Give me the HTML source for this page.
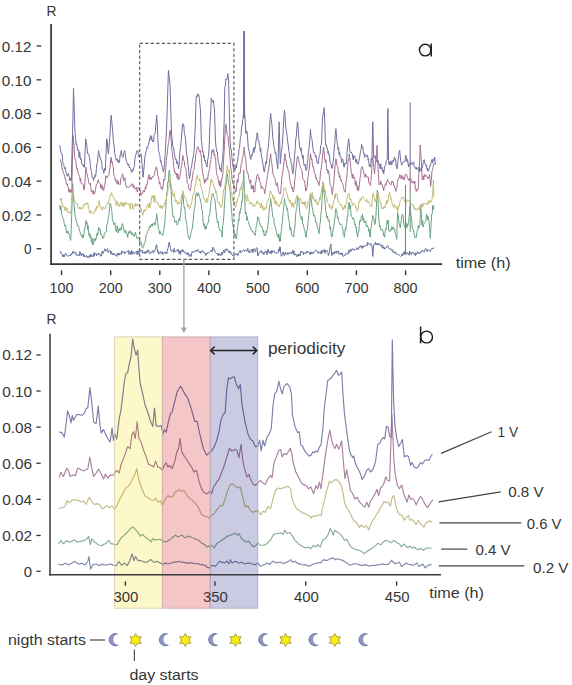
<!DOCTYPE html>
<html><head><meta charset="utf-8"><title>Figure</title><style>
html,body{margin:0;padding:0;background:#fff;width:572px;height:685px;overflow:hidden}
svg{display:block}
text{font-family:"Liberation Sans", sans-serif}
</style></head><body>
<svg width="572" height="685" viewBox="0 0 572 685">
<rect x="0" y="0" width="572" height="685" fill="#fff"/>
<defs><filter id="soft" x="-5%" y="-5%" width="110%" height="110%"><feGaussianBlur stdDeviation="0.28"/></filter></defs>
<g id="top">
<g filter="url(#soft)">
<polyline points="60.0,252.0 60.6,251.2 61.1,253.9 61.7,253.4 62.3,254.4 62.8,256.8 63.4,254.8 64.0,257.1 64.5,256.2 65.0,253.8 65.6,253.6 66.2,253.7 66.7,255.6 67.3,256.1 67.8,256.1 68.4,256.1 69.0,255.3 69.5,255.6 70.1,254.8 70.7,255.9 71.2,253.4 71.8,254.6 72.4,253.0 72.9,251.2 73.5,251.4 74.0,253.3 74.6,252.3 75.2,252.7 75.7,252.0 76.2,255.3 76.8,254.0 77.3,255.7 77.8,255.4 78.3,255.1 78.8,254.9 79.3,255.8 79.8,251.6 80.3,254.6 80.8,252.4 81.3,256.0 81.8,254.8 82.3,255.2 82.8,253.8 83.3,253.4 83.8,256.8 84.3,255.1 84.9,256.8 85.4,257.1 85.9,256.2 86.4,255.5 86.9,256.0 87.4,257.6 87.9,256.0 88.4,256.9 88.9,257.5 89.4,255.3 89.9,257.3 90.4,256.8 90.9,253.9 91.4,256.7 91.9,255.6 92.4,255.8 92.9,255.8 93.4,257.0 93.9,252.5 94.5,255.7 95.0,253.8 95.5,253.3 96.0,253.1 96.5,255.8 97.0,254.0 97.5,254.6 98.0,254.9 98.5,252.9 99.0,253.8 99.6,253.6 100.1,255.4 100.6,256.4 101.1,254.8 101.6,255.9 102.1,251.1 102.7,252.9 103.2,253.5 103.7,252.1 104.2,250.9 104.8,248.7 105.3,249.8 105.9,251.2 106.4,250.1 107.0,249.3 107.6,248.6 108.1,252.7 108.7,251.4 109.2,251.4 109.8,250.2 110.3,250.6 110.9,254.2 111.5,251.6 112.0,253.1 112.5,255.1 113.0,253.8 113.6,253.5 114.1,255.0 114.6,253.6 115.2,255.6 115.7,255.3 116.2,255.6 116.7,256.6 117.2,253.2 117.8,254.0 118.3,255.4 118.8,253.0 119.4,254.9 119.9,252.9 120.4,253.1 120.9,253.7 121.4,254.7 121.9,250.8 122.4,252.9 123.0,252.1 123.5,251.7 124.0,251.2 124.5,254.1 125.0,253.2 125.5,252.3 126.0,252.7 126.5,251.8 127.0,252.1 127.5,251.4 128.0,251.3 128.5,250.2 129.0,254.5 129.5,252.2 130.0,251.6 130.5,253.1 131.0,254.8 131.5,250.0 132.0,253.9 132.5,253.8 133.0,251.5 133.5,253.3 134.0,253.8 134.5,254.1 135.0,252.5 135.5,252.3 136.0,252.3 136.6,251.2 137.1,254.5 137.6,250.8 138.1,254.4 138.6,252.7 139.2,249.8 139.7,250.6 140.2,252.5 140.8,251.6 141.3,250.3 141.8,250.6 142.3,250.0 142.8,253.4 143.4,252.4 143.9,252.0 144.4,253.6 145.0,251.4 145.5,251.4 146.0,253.5 146.6,251.5 147.1,252.4 147.7,249.8 148.2,251.4 148.7,250.0 149.3,253.3 149.8,252.3 150.4,253.6 151.1,252.3 151.7,252.3 152.3,250.5 152.8,250.6 153.4,253.2 154.0,250.5 154.5,250.9 155.1,250.6 155.6,247.9 156.2,245.4 156.7,244.7 157.6,252.3 158.1,250.7 158.7,254.0 159.2,254.1 159.7,253.6 160.2,251.6 160.8,251.7 161.3,253.6 161.8,253.1 162.3,251.6 162.8,254.4 163.3,253.5 163.8,253.3 164.3,253.0 164.8,251.9 165.3,253.4 165.8,252.2 166.3,252.6 166.8,254.0 167.3,250.8 167.8,248.9 168.3,247.3 168.8,242.8 169.3,242.2 169.9,245.0 170.4,247.6 171.0,250.6 171.5,251.5 172.1,250.8 172.6,249.9 173.1,251.2 173.6,252.6 174.1,248.3 174.7,251.8 175.2,251.4 175.8,251.6 176.3,250.6 176.9,251.1 177.5,250.8 178.0,249.1 178.6,252.3 179.1,253.8 179.6,250.8 180.1,250.8 180.6,254.5 181.1,250.9 181.6,250.1 182.1,249.5 182.6,252.0 183.1,249.9 183.6,250.6 184.2,252.7 184.7,252.4 185.3,252.4 185.9,252.1 186.4,254.4 187.0,253.1 187.5,254.6 188.0,252.7 188.5,253.0 189.1,256.5 189.6,255.6 190.1,254.3 190.6,255.2 191.1,256.5 191.6,253.7 192.1,251.5 192.7,252.4 193.2,252.6 193.7,251.4 194.2,251.4 194.8,251.5 195.3,251.7 195.9,250.5 196.4,251.3 197.0,249.8 197.6,250.3 198.1,249.6 198.7,251.7 199.3,251.8 199.8,252.8 200.4,251.4 200.9,253.3 201.4,251.7 201.9,251.2 202.4,251.6 202.9,250.5 203.4,252.2 203.9,252.2 204.4,253.4 204.9,253.5 205.4,253.1 205.9,255.6 206.4,253.6 206.9,253.4 207.4,253.9 207.9,252.3 208.4,252.8 208.9,252.6 209.4,252.3 209.9,251.7 210.4,251.4 211.0,251.3 211.5,250.0 212.1,251.9 212.7,247.0 213.2,249.9 213.8,248.9 214.4,249.4 214.9,251.1 215.4,252.5 216.0,253.3 216.6,253.5 217.1,254.0 217.7,253.4 218.2,255.9 218.8,253.5 219.4,255.0 219.9,253.7 220.5,255.6 221.0,255.8 221.5,253.7 222.0,251.9 222.5,254.5 223.0,251.9 223.5,252.0 224.0,249.9 224.5,252.7 225.0,252.3 225.5,248.9 226.1,250.1 226.6,248.9 227.2,249.2 227.8,249.4 228.3,252.3 228.9,251.4 229.4,251.0 230.0,253.3 230.6,251.4 231.1,254.1 231.6,254.0 232.2,254.8 232.7,255.8 233.2,255.3 233.8,256.5 234.3,256.3 234.8,255.2 235.3,254.9 235.9,253.5 236.4,254.8 236.9,254.3 237.4,253.9 237.9,255.6 238.4,254.8 238.9,252.8 239.5,251.8 240.1,250.3 240.6,252.5 241.1,252.8 241.7,251.4 242.3,251.1 242.8,250.3 243.4,249.8 244.0,249.9 244.5,251.6 245.1,250.6 245.7,249.8 246.2,251.0 246.8,250.8 247.3,251.1 247.8,248.3 248.4,251.4 249.0,252.6 249.5,250.7 250.1,252.5 250.7,252.2 251.2,249.5 251.8,250.6 252.4,249.0 252.9,253.0 253.4,249.5 254.0,248.6 254.6,249.9 255.1,251.4 255.6,251.6 256.1,248.6 256.6,247.6 257.1,248.1 257.7,255.6 258.2,255.9 258.7,253.7 259.2,252.2 259.7,252.7 260.2,251.4 260.7,251.8 261.2,250.4 261.8,252.3 262.3,253.4 262.8,251.9 263.3,252.6 263.9,254.8 264.4,252.0 264.9,252.8 265.4,251.2 266.0,250.9 266.5,253.4 267.0,254.7 267.6,250.8 268.1,249.2 268.6,252.3 269.1,253.2 269.6,251.9 270.1,251.2 270.6,251.3 271.1,254.1 271.6,250.4 272.1,252.8 272.6,250.9 273.1,250.6 273.6,251.4 274.1,250.9 274.7,252.6 275.2,252.0 275.7,252.4 276.2,253.7 276.8,253.3 277.3,252.3 277.8,252.3 278.3,252.5 278.8,249.0 279.3,251.2 279.8,246.7 280.3,247.2 281.1,255.6 281.6,256.3 282.2,254.5 282.7,253.5 283.2,251.9 283.7,255.0 284.2,255.6 284.8,254.2 285.3,252.3 285.8,254.1 286.3,254.0 286.8,253.6 287.3,252.7 287.9,254.5 288.4,253.5 288.9,252.4 289.4,253.5 289.9,252.9 290.4,253.1 290.9,253.3 291.4,252.0 291.9,253.6 292.4,252.3 292.9,250.3 293.4,254.3 293.9,250.7 294.4,254.9 294.9,255.1 295.4,254.0 296.0,254.3 296.5,256.5 297.1,255.6 297.6,256.4 298.1,253.9 298.6,256.0 299.1,254.1 299.6,255.4 300.1,256.0 300.6,251.5 301.1,252.5 301.6,251.1 302.1,252.3 302.6,252.2 303.1,251.9 303.6,254.8 304.1,252.5 304.6,253.0 305.1,253.5 305.6,252.7 306.1,253.4 306.6,251.2 307.1,251.4 307.6,253.0 308.1,251.9 308.6,251.5 309.1,251.6 309.6,252.8 310.2,254.8 310.7,252.3 311.2,251.8 311.7,253.6 312.2,252.3 312.7,253.6 313.2,253.4 313.7,251.9 314.2,251.5 314.7,251.8 315.2,251.6 315.7,251.1 316.2,249.8 316.7,250.6 317.2,251.4 317.7,251.8 318.2,253.4 318.7,251.7 319.2,252.4 319.7,252.8 320.2,252.7 320.7,253.7 321.2,250.6 321.7,253.9 322.2,252.3 322.7,250.5 323.2,252.0 323.7,251.7 324.2,249.3 324.8,252.0 325.3,253.4 325.8,250.2 326.3,251.3 326.8,250.1 327.3,251.4 327.9,252.7 328.4,255.6 328.9,254.3 329.4,252.0 329.9,247.1 330.4,246.8 330.9,243.9 331.7,255.6 332.3,254.9 332.8,252.8 333.4,252.1 334.0,254.3 334.5,252.2 335.1,251.4 335.6,253.0 336.1,251.0 336.6,253.3 337.1,251.1 337.6,251.7 338.1,250.7 338.6,253.2 339.1,254.4 339.6,253.1 340.1,253.1 340.6,254.3 341.2,252.7 341.7,254.8 342.2,253.0 342.7,254.9 343.2,256.6 343.8,255.7 344.3,255.6 344.8,254.8 345.4,255.3 345.9,253.0 346.4,253.4 346.9,253.4 347.4,253.8 348.0,254.5 348.5,251.4 349.0,249.9 349.5,252.8 350.0,251.4 350.5,249.4 351.0,251.3 351.5,250.9 352.0,248.7 352.5,248.7 353.0,250.0 353.5,249.8 354.0,248.9 354.5,250.4 355.0,250.4 355.5,250.0 356.1,249.4 356.6,247.9 357.1,248.2 357.6,247.9 358.1,249.7 358.6,248.1 359.1,248.1 359.6,246.1 360.1,246.6 360.6,247.2 361.1,245.3 361.6,246.1 362.1,248.5 362.6,246.2 363.1,247.5 363.6,245.6 364.1,246.5 364.6,246.5 365.1,246.4 365.6,245.6 366.1,244.8 366.6,244.7 367.1,245.8 367.6,242.2 368.1,243.0 368.6,243.9 369.2,244.3 369.7,243.6 370.3,244.7 370.9,243.6 371.4,245.9 372.0,245.6 372.8,256.5 373.7,244.7 374.2,244.6 374.8,244.9 375.4,242.2 375.9,244.2 376.4,244.8 377.0,243.0 377.6,244.8 378.1,245.1 378.7,243.7 379.3,243.5 379.8,244.7 380.4,245.6 380.9,244.5 381.5,245.3 382.0,247.5 382.6,245.0 383.1,248.5 383.7,246.9 384.2,247.6 384.7,249.1 385.2,248.8 385.8,247.6 386.3,247.6 386.8,246.4 387.3,246.5 387.9,245.6 388.4,248.3 388.9,248.6 389.4,248.8 390.0,249.1 390.5,248.5 391.0,249.9 391.6,249.8 392.1,251.2 392.6,249.7 393.2,252.6 393.7,251.6 394.3,251.8 394.8,253.4 395.4,252.4 396.0,252.5 396.5,254.2 397.1,254.7 397.6,254.5 398.2,254.5 398.8,254.2 399.3,255.1 399.9,255.8 400.4,256.5 401.0,255.9 401.5,255.7 402.1,253.8 402.6,256.0 403.1,253.8 403.6,252.3 404.1,254.5 404.7,251.3 405.2,251.7 405.8,252.9 406.3,252.8 406.9,254.1 407.4,252.5 408.0,253.1 408.6,253.2 409.1,255.3 409.7,251.1 410.2,253.2 410.8,253.8 411.4,254.8 411.9,252.3 412.5,252.0 413.0,253.1 413.6,253.1 414.2,254.1 414.7,252.7 415.3,255.7 415.8,253.3 416.4,254.5 417.0,252.9 417.5,251.6 418.1,253.5 418.6,252.6 419.2,252.4 419.8,253.8 420.3,252.8 420.9,252.5 421.4,250.9 422.0,251.7 422.6,250.0 423.1,250.7 423.7,251.4 424.2,252.3 424.8,250.3 425.4,248.4 425.9,249.4 426.5,249.6 427.0,251.6 427.6,249.7 428.1,249.4 428.7,250.3 429.2,250.6 429.8,250.9 430.3,251.7 431.0,249.3 431.7,249.0 432.2,248.1 432.8,248.5 433.3,249.0 433.8,247.6" fill="none" stroke="#66709a" stroke-width="1.0" stroke-linejoin="round" stroke-opacity="1.0"/>
<polyline points="59.7,205.3 60.3,210.0 60.9,205.8 61.4,213.2 62.0,215.2 62.6,217.0 63.2,219.1 63.7,220.0 64.2,223.2 64.8,226.1 65.4,225.1 65.9,227.1 66.4,233.0 66.9,231.9 67.4,233.1 67.9,230.8 68.4,233.8 68.9,233.1 69.4,235.9 69.9,236.9 70.4,240.5 70.9,238.9 71.5,220.0 72.0,204.1 72.6,183.5 73.2,191.8 73.7,201.0 74.3,207.0 74.9,213.8 75.4,217.2 76.0,220.4 76.5,220.4 77.0,223.1 77.5,226.0 78.0,225.5 78.5,227.1 79.0,227.7 79.5,230.1 80.0,231.9 80.5,234.1 81.0,233.8 81.5,236.4 82.0,236.6 82.5,234.8 83.0,238.2 83.5,237.2 84.0,233.9 84.5,230.0 85.0,227.1 85.5,224.7 86.0,220.4 86.5,224.2 87.0,222.5 87.6,230.0 88.1,225.7 88.6,232.1 89.1,235.6 89.6,232.9 90.1,237.9 90.6,235.3 91.1,238.9 91.6,242.9 92.1,238.2 92.6,244.8 93.1,245.2 93.6,243.9 94.1,238.6 94.6,240.6 95.1,238.3 95.6,240.6 96.1,238.9 96.6,235.4 97.1,233.2 97.6,236.0 98.1,231.3 98.6,227.1 99.1,228.3 99.6,230.6 100.1,229.1 100.6,234.4 101.1,233.8 101.6,235.1 102.1,235.6 102.7,238.7 103.2,237.7 103.7,238.0 104.2,234.3 104.7,232.8 105.2,232.7 105.7,231.9 106.2,232.1 106.8,225.1 107.3,224.0 107.9,220.4 108.4,217.5 108.9,215.2 109.4,209.1 109.9,203.6 110.4,203.6 110.9,205.2 111.4,208.2 111.9,211.2 112.4,220.6 112.9,220.4 113.4,222.3 113.9,224.7 114.4,223.9 114.9,222.7 115.4,228.8 116.0,231.3 116.5,231.6 117.1,225.8 117.7,228.8 118.2,233.0 118.8,230.5 119.3,228.4 119.9,231.0 120.4,227.9 121.0,228.1 121.5,229.5 122.1,223.8 122.7,223.8 123.2,226.7 123.8,230.5 124.3,230.5 124.9,232.9 125.4,230.2 126.0,230.5 126.5,234.0 127.1,233.8 127.7,237.5 128.2,233.9 128.8,231.4 129.4,233.2 129.9,231.2 130.5,230.5 131.0,233.9 131.5,234.7 132.0,232.4 132.5,234.4 133.0,235.5 133.5,234.4 134.0,236.3 134.5,236.4 135.0,233.0 135.5,232.1 136.0,235.2 136.5,236.3 137.1,238.6 137.6,237.3 138.1,237.2 138.6,237.3 139.1,238.1 139.6,242.7 140.1,240.8 140.6,242.2 141.1,241.9 141.6,242.5 142.1,247.5 142.6,248.1 143.1,247.2 143.6,246.9 144.1,243.7 144.6,243.8 145.1,241.8 145.6,238.9 146.1,234.9 146.6,234.3 147.1,233.4 147.6,231.5 148.1,230.5 148.7,230.5 149.4,226.1 150.0,227.1 150.5,227.6 151.0,224.2 151.6,224.5 152.1,226.6 152.6,223.8 153.1,224.2 153.6,224.3 154.1,222.7 154.6,223.6 155.1,225.4 155.6,220.9 156.2,220.1 156.7,213.7 157.3,219.0 157.8,222.6 158.4,228.8 159.0,230.1 159.5,234.1 160.1,231.4 160.7,233.2 161.2,234.3 161.8,233.8 162.3,234.6 162.8,235.6 163.3,232.0 163.8,230.4 164.3,227.1 164.8,222.9 165.3,212.9 165.8,209.3 166.3,199.0 166.8,193.6 167.3,190.6 167.8,181.9 168.3,182.1 168.8,173.0 169.3,170.1 169.9,173.1 170.4,182.9 171.0,190.2 171.6,200.5 172.1,207.8 172.7,215.4 173.2,216.9 173.7,215.9 174.2,218.4 174.7,222.3 175.2,222.1 175.7,221.9 176.2,220.7 176.7,222.6 177.2,225.3 177.7,223.8 178.2,223.1 178.7,219.7 179.2,218.3 179.7,220.7 180.2,217.0 180.7,214.3 181.2,207.6 181.8,201.7 182.3,197.8 182.8,195.2 183.3,198.2 183.8,205.5 184.3,208.0 184.8,207.8 185.3,215.4 185.8,220.4 186.3,221.1 186.8,224.5 187.3,230.4 187.8,233.8 188.4,237.4 188.9,236.6 189.5,239.7 190.1,237.5 190.6,235.6 191.2,231.2 191.7,230.2 192.2,228.9 192.8,223.8 193.4,218.9 193.9,211.5 194.5,208.6 195.1,205.8 195.6,196.5 196.2,193.6 196.7,192.6 197.2,196.0 197.7,196.2 198.2,192.7 198.7,193.6 199.2,196.1 199.7,197.4 200.2,198.9 200.7,201.6 201.2,203.6 201.7,209.4 202.2,210.5 202.7,214.5 203.2,222.1 203.7,225.4 204.2,223.7 204.7,227.5 205.2,229.3 205.7,225.8 206.2,228.8 206.8,225.4 207.3,224.7 207.9,222.9 208.5,222.2 209.0,215.3 209.6,215.4 210.1,211.0 210.6,206.9 211.1,200.2 211.6,198.8 212.1,193.6 212.6,194.1 213.1,193.9 213.6,196.4 214.1,197.3 214.6,198.6 215.1,201.0 215.6,207.3 216.1,211.1 216.6,217.1 217.1,220.4 217.7,223.0 218.2,221.3 218.8,228.0 219.4,228.8 219.9,230.7 220.5,230.5 221.1,230.5 221.6,232.5 222.2,237.2 222.7,225.8 223.2,223.2 223.7,218.0 224.2,208.9 224.7,201.9 225.2,194.2 225.7,186.6 226.2,184.0 226.7,178.5 227.2,173.4 227.7,176.2 228.2,179.7 228.7,183.2 229.2,186.5 229.7,186.8 230.3,193.1 230.8,200.6 231.4,210.3 231.9,214.0 232.4,222.9 232.9,225.8 233.4,227.7 233.9,233.8 234.4,235.9 234.9,233.4 235.4,235.3 235.9,238.3 236.4,238.9 236.9,233.7 237.5,227.1 238.0,225.5 238.5,219.4 239.0,220.7 239.5,211.7 240.0,213.7 240.5,208.5 241.0,209.1 241.6,201.5 242.1,202.2 242.6,196.9 243.1,185.9 243.7,170.1 244.4,189.3 245.1,210.3 245.6,214.1 246.1,212.1 246.6,220.3 247.1,216.4 247.6,220.4 248.1,220.6 248.6,221.6 249.1,224.6 249.6,225.9 250.1,227.1 250.6,226.5 251.1,230.1 251.6,229.8 252.1,230.3 252.6,232.1 253.1,231.5 253.6,233.3 254.1,234.0 254.6,233.8 255.1,235.5 255.6,232.3 256.1,226.7 256.7,225.2 257.2,221.6 257.7,217.0 258.2,217.2 258.7,217.3 259.2,221.1 259.7,222.5 260.2,225.4 260.7,225.6 261.2,227.0 261.7,226.0 262.2,227.6 262.7,230.5 263.2,232.1 263.7,230.2 264.2,235.7 264.7,234.5 265.2,235.5 265.7,236.0 266.2,231.1 266.7,232.7 267.2,229.8 267.7,227.1 268.3,221.9 268.9,215.8 269.4,207.1 270.0,204.9 270.6,198.6 271.2,202.9 271.7,207.2 272.2,211.8 272.8,217.0 273.3,217.6 273.8,218.3 274.3,224.1 274.8,225.2 275.3,227.1 275.8,228.8 276.3,231.9 276.8,233.2 277.3,236.5 277.8,235.5 278.3,237.5 278.8,233.9 279.3,241.3 279.8,236.7 280.3,241.4 280.9,233.7 281.4,230.5 282.0,223.8 282.5,221.1 283.0,212.9 283.5,209.2 284.0,205.1 284.5,198.6 285.0,203.3 285.5,204.9 286.0,205.7 286.5,205.5 287.0,210.3 287.5,208.6 288.0,213.5 288.5,219.0 289.0,220.7 289.5,223.8 290.0,230.1 290.5,227.4 291.0,228.4 291.5,234.7 292.0,235.5 292.6,235.6 293.1,234.6 293.7,237.2 294.2,229.6 294.7,229.2 295.2,222.9 295.7,214.2 296.2,210.3 296.8,208.4 297.3,201.0 297.9,196.9 298.4,198.8 298.9,200.6 299.4,207.7 299.9,214.0 300.4,215.4 301.0,218.1 301.5,219.8 302.1,216.6 302.7,223.9 303.2,223.9 303.8,227.1 304.3,228.9 304.8,229.9 305.3,234.5 305.8,236.9 306.3,237.2 306.8,230.4 307.3,230.2 307.8,224.4 308.3,220.7 308.8,215.4 309.4,209.2 309.9,202.7 310.5,193.6 311.0,198.1 311.5,201.1 312.0,207.0 312.5,207.9 313.0,212.0 313.6,215.8 314.1,216.2 314.7,215.1 315.3,219.4 315.8,222.8 316.4,222.1 316.9,223.9 317.4,228.2 317.9,228.4 318.4,230.7 318.9,233.8 319.4,230.0 319.9,223.9 320.4,222.2 320.9,214.5 321.4,210.3 322.0,201.2 322.5,192.1 323.1,181.8 323.6,189.6 324.1,194.1 324.6,196.5 325.1,202.6 325.6,210.3 326.1,211.6 326.6,215.6 327.1,218.1 327.6,216.2 328.1,220.4 328.6,221.2 329.1,219.8 329.6,223.4 330.1,229.4 330.6,227.1 331.1,234.2 331.7,237.2 332.2,236.5 332.7,232.2 333.2,229.7 333.7,225.5 334.2,223.8 334.8,219.1 335.3,213.6 335.9,208.7 336.4,211.1 336.9,212.0 337.4,218.2 337.9,216.7 338.4,220.4 339.0,222.4 339.5,222.5 340.1,224.8 340.7,223.8 341.2,224.1 341.8,225.4 342.3,227.0 342.8,228.6 343.3,234.7 343.8,235.4 344.3,237.2 344.8,232.6 345.3,228.3 345.8,229.9 346.3,225.3 346.8,223.8 347.3,215.9 347.8,216.5 348.3,205.5 348.8,202.0 349.3,202.8 349.8,209.0 350.3,205.1 350.8,212.2 351.3,216.6 351.8,217.0 352.4,217.1 352.9,219.5 353.5,218.2 354.1,219.9 354.6,224.9 355.2,223.8 355.7,227.5 356.2,226.9 356.7,233.7 357.2,233.5 357.7,237.2 358.2,231.8 358.7,232.1 359.2,226.2 359.7,220.4 360.2,220.4 360.8,221.6 361.3,216.6 361.9,217.0 362.5,213.8 363.0,220.6 363.6,217.7 364.2,222.9 364.7,221.1 365.3,222.1 365.8,220.8 366.3,226.5 366.8,226.8 367.3,225.3 367.8,227.1 368.3,227.3 368.8,231.5 369.3,229.4 369.8,236.6 370.3,237.2 370.8,228.9 371.3,227.0 371.8,221.7 372.3,219.4 372.8,215.4 373.3,217.4 373.8,218.9 374.3,222.3 374.8,224.5 375.3,223.8 375.8,216.8 376.3,207.7 376.8,199.6 377.3,190.2 377.9,199.5 378.4,209.3 378.9,220.4 379.5,227.1 380.0,225.6 380.5,226.5 381.0,230.1 381.5,229.6 382.0,230.5 382.5,229.5 383.0,230.7 383.6,236.1 384.1,234.5 384.6,237.2 385.1,231.5 385.6,228.6 386.1,229.4 386.6,226.3 387.1,220.4 387.6,223.9 388.2,220.2 388.7,230.9 389.3,230.5 389.8,230.8 390.3,231.6 390.9,229.1 391.4,230.0 391.9,226.6 392.5,227.5 393.0,229.6 393.6,227.2 394.1,229.6 394.7,229.4 395.2,233.4 395.8,233.9 396.3,237.0 396.8,239.2 397.5,212.6 398.1,214.4 398.6,219.2 399.2,223.9 399.7,225.1 400.3,228.0 400.8,223.3 401.4,220.3 401.9,216.1 402.4,214.0 402.9,215.2 403.4,218.7 404.0,225.1 404.5,226.6 405.0,225.4 405.5,230.2 406.0,224.5 406.5,223.4 407.0,227.7 407.5,224.4 408.0,225.2 408.5,221.5 409.1,217.5 409.6,210.9 410.1,205.6 410.6,211.2 411.1,215.6 411.7,219.9 412.2,228.0 412.8,229.4 413.3,229.6 413.9,232.3 414.4,234.8 415.0,237.8 415.6,236.9 416.1,237.6 416.7,234.0 417.2,231.1 417.8,229.4 418.3,225.4 418.9,228.3 419.4,225.8 419.9,225.2 420.6,205.6 421.3,213.2 422.0,225.2 422.6,220.0 423.1,227.1 423.7,224.5 424.2,223.2 424.8,222.4 425.3,221.9 425.9,220.6 426.4,214.1 426.9,216.8 427.4,219.7 427.9,215.7 428.5,218.0 429.0,221.0 429.6,227.3 430.3,238.5 431.0,225.1 431.7,214.0 432.2,214.0 432.8,205.4 433.3,209.8 433.8,205.6" fill="none" stroke="#6aa282" stroke-width="1.0" stroke-linejoin="round" stroke-opacity="1.0"/>
<polyline points="59.7,198.6 60.2,198.5 60.8,200.4 61.3,198.1 61.8,203.3 62.3,203.1 62.9,206.0 63.4,207.0 64.0,207.1 64.5,206.8 65.0,210.7 65.6,206.9 66.2,208.1 66.7,210.3 67.2,208.5 67.8,212.7 68.3,212.0 68.8,211.5 69.3,212.1 69.9,213.2 70.4,211.5 70.9,213.7 71.5,202.9 72.0,195.4 72.6,188.0 73.2,193.3 73.7,195.6 74.3,200.0 74.9,201.6 75.4,202.0 76.0,203.6 76.5,203.7 77.1,203.0 77.7,206.7 78.2,208.0 78.8,208.1 79.3,208.7 79.9,206.8 80.4,209.3 81.0,207.6 81.6,208.6 82.1,208.6 82.7,208.7 83.2,205.6 83.8,204.4 84.3,205.3 84.9,205.3 85.5,203.2 86.0,202.8 86.5,204.2 87.0,204.1 87.6,202.8 88.1,205.3 88.6,208.7 89.1,208.9 89.6,213.0 90.2,212.8 90.7,210.6 91.2,211.9 91.8,212.9 92.3,213.7 92.8,213.7 93.3,213.2 93.9,213.6 94.4,211.0 95.0,211.5 95.5,208.5 96.1,210.3 96.6,206.4 97.1,208.2 97.6,207.1 98.1,205.9 98.6,203.6 99.2,200.5 99.7,204.6 100.3,207.4 100.9,207.4 101.4,208.6 102.0,210.3 102.5,209.1 103.1,206.8 103.7,208.2 104.2,208.0 104.8,208.7 105.3,208.7 105.9,205.7 106.4,205.7 107.0,205.1 107.6,202.6 108.1,203.8 108.7,202.0 109.2,199.9 109.7,196.5 110.2,194.9 110.7,196.2 111.2,192.7 111.8,192.9 112.3,195.9 112.9,195.8 113.5,196.8 114.0,197.9 114.6,200.3 115.1,200.4 115.6,200.9 116.2,205.3 116.7,204.7 117.2,200.7 117.8,204.7 118.3,206.2 118.8,204.5 119.3,206.3 119.8,206.1 120.3,202.5 120.8,202.1 121.3,204.3 121.8,206.0 122.3,202.0 122.8,202.3 123.3,206.6 123.8,204.0 124.3,206.1 124.8,202.5 125.3,204.6 125.8,202.4 126.3,202.8 126.8,203.0 127.3,203.8 127.8,203.3 128.3,205.1 128.8,205.3 129.3,204.9 129.8,204.3 130.3,209.4 130.8,203.1 131.4,203.5 131.9,203.5 132.4,205.9 132.9,209.6 133.4,206.4 133.9,206.1 134.4,204.4 134.9,203.9 135.4,206.5 135.9,203.2 136.4,204.4 136.9,206.2 137.4,206.1 137.9,204.1 138.4,204.2 138.9,204.0 139.4,205.2 140.0,207.0 140.6,209.0 141.1,208.4 141.6,211.7 142.2,213.7 142.7,215.2 143.2,214.4 143.8,210.7 144.3,209.4 144.8,211.4 145.3,211.4 145.9,210.4 146.4,208.7 146.9,206.4 147.4,205.5 148.0,203.9 148.5,207.8 149.0,208.1 149.6,202.5 150.1,207.3 150.6,205.3 151.1,201.7 151.7,197.3 152.3,195.4 152.8,197.9 153.4,196.3 154.0,202.5 154.5,195.1 155.1,199.0 155.7,199.6 156.2,202.8 156.8,202.0 157.3,202.6 157.8,202.6 158.4,204.0 159.0,206.6 159.5,207.4 160.1,206.0 160.7,208.3 161.2,205.2 161.8,207.4 162.4,208.7 162.9,206.3 163.4,206.7 164.0,205.5 164.6,202.8 165.1,204.0 165.7,199.5 166.2,200.5 166.8,195.8 167.4,193.6 167.9,190.5 168.5,187.2 169.1,186.8 169.6,180.7 170.2,178.9 170.7,183.4 171.2,185.3 171.7,187.9 172.2,190.6 172.7,194.0 173.2,196.1 173.8,196.6 174.3,193.3 174.9,198.0 175.4,201.8 176.0,200.7 176.6,200.0 177.1,202.8 177.7,204.6 178.3,201.7 178.8,202.3 179.4,204.0 180.0,202.7 180.5,201.5 181.1,199.1 181.7,194.7 182.2,195.3 182.8,190.6 183.4,192.1 183.9,197.2 184.4,195.6 185.0,197.7 185.6,198.5 186.1,200.7 186.7,200.3 187.2,204.3 187.8,206.8 188.4,204.4 188.9,207.1 189.5,209.1 190.0,208.4 190.6,206.2 191.1,204.9 191.6,202.8 192.1,200.5 192.6,195.9 193.2,195.2 193.7,194.0 194.2,191.8 194.8,186.3 195.3,185.4 195.9,183.5 196.4,176.8 197.0,175.5 197.6,175.2 198.1,179.4 198.7,180.0 199.3,180.9 199.8,178.7 200.4,183.9 200.9,186.6 201.5,188.3 202.1,190.9 202.6,191.8 203.1,195.3 203.7,199.0 204.3,198.8 204.8,199.6 205.4,202.0 206.0,202.9 206.5,198.3 207.1,202.3 207.6,201.3 208.2,197.4 208.7,194.3 209.2,192.9 209.7,188.2 210.2,186.2 210.8,180.2 211.3,178.9 211.9,182.1 212.4,180.7 212.9,182.8 213.5,185.9 214.1,187.8 214.6,187.2 215.2,189.7 215.7,193.2 216.3,191.0 216.9,194.9 217.4,200.6 218.0,202.3 218.6,203.3 219.1,202.5 219.7,202.6 220.2,206.4 220.8,206.9 221.3,207.4 221.9,205.9 222.4,202.1 223.0,195.1 223.6,189.7 224.1,189.7 224.7,187.2 225.2,183.8 225.7,180.2 226.2,176.2 226.7,170.9 227.2,165.4 227.7,168.9 228.2,171.2 228.7,172.7 229.2,169.5 229.7,175.5 230.2,180.8 230.7,187.0 231.2,192.4 231.7,192.5 232.2,197.3 232.8,200.9 233.3,200.0 233.9,202.5 234.5,201.1 235.0,205.1 235.6,207.4 236.2,205.5 236.7,201.1 237.3,201.4 237.8,197.6 238.4,197.3 238.9,195.1 239.4,195.2 240.0,188.8 240.5,187.5 241.0,189.8 241.6,184.7 242.1,182.6 242.6,182.2 243.1,182.7 243.6,187.4 244.1,188.3 244.6,193.8 245.1,194.0 245.7,197.3 246.2,199.8 246.8,201.6 247.3,194.8 247.8,197.3 248.4,200.7 249.0,201.2 249.5,201.8 250.1,204.3 250.7,202.1 251.2,202.7 251.8,204.0 252.4,203.7 252.9,205.2 253.4,207.0 254.0,204.7 254.6,205.6 255.1,205.7 255.6,205.8 256.1,204.8 256.6,201.4 257.1,200.7 257.6,200.9 258.1,203.8 258.6,202.9 259.2,203.3 259.7,204.9 260.2,205.7 260.7,208.1 261.2,202.8 261.8,204.7 262.3,208.6 262.8,205.9 263.3,209.9 263.9,210.5 264.4,209.1 264.9,207.5 265.5,207.4 266.0,208.8 266.6,205.5 267.1,201.2 267.7,200.7 268.2,200.6 268.7,198.2 269.2,197.7 269.7,196.3 270.2,191.3 270.7,190.6 271.3,194.0 271.9,194.0 272.4,194.8 273.0,198.7 273.6,199.0 274.1,196.3 274.7,202.4 275.2,203.6 275.7,200.5 276.2,204.7 276.8,202.1 277.3,205.7 277.8,205.7 278.4,205.0 278.9,206.5 279.5,207.0 280.0,204.0 280.6,201.9 281.1,204.0 281.7,201.9 282.2,196.9 282.8,197.6 283.4,192.2 283.9,187.9 284.5,187.2 285.1,187.7 285.6,188.5 286.2,192.0 286.8,193.1 287.3,194.2 287.9,197.3 288.4,200.2 289.0,199.4 289.5,202.3 290.1,200.3 290.6,202.4 291.2,204.0 291.7,207.0 292.2,202.6 292.7,204.1 293.2,205.7 293.7,207.4 294.2,202.8 294.8,203.7 295.3,203.5 295.8,199.6 296.3,198.0 296.9,195.3 297.4,195.6 297.9,197.7 298.5,199.6 299.1,200.0 299.6,199.0 300.1,198.0 300.7,200.1 301.2,201.1 301.7,203.2 302.2,201.9 302.8,204.2 303.3,202.1 303.8,204.0 304.4,202.2 304.9,205.3 305.5,201.4 306.0,207.7 306.6,209.1 307.1,207.4 307.7,205.4 308.2,201.7 308.8,202.6 309.4,199.0 309.9,196.0 310.5,194.0 311.1,195.7 311.6,196.7 312.2,192.3 312.8,198.8 313.3,196.4 313.9,199.0 314.4,201.0 314.9,201.8 315.5,199.8 316.0,199.2 316.5,204.0 317.1,202.6 317.6,205.4 318.1,204.0 318.6,202.8 319.1,200.7 319.6,197.4 320.1,199.6 320.6,195.6 321.1,192.5 321.6,190.0 322.1,187.3 322.6,183.2 323.1,182.2 323.7,184.8 324.2,188.9 324.8,191.8 325.3,190.0 325.8,195.0 326.4,197.3 326.9,197.8 327.4,202.4 327.9,202.8 328.4,203.6 328.9,204.5 329.5,207.5 330.0,204.7 330.6,205.5 331.1,209.4 331.7,208.7 332.2,205.9 332.7,207.5 333.2,203.1 333.7,200.2 334.2,200.3 334.8,194.4 335.3,198.1 335.8,193.4 336.4,193.6 337.0,193.8 337.6,199.4 338.1,201.9 338.7,201.3 339.3,203.6 339.8,204.1 340.3,205.2 340.8,205.6 341.3,204.6 341.8,207.0 342.4,208.2 342.9,210.1 343.5,209.1 344.0,206.6 344.6,205.0 345.1,208.7 345.7,205.6 346.2,203.1 346.8,200.1 347.4,196.9 347.9,195.4 348.5,193.6 349.1,193.0 349.6,198.5 350.1,200.1 350.7,198.5 351.2,200.5 351.8,202.0 352.4,206.0 352.9,204.8 353.5,203.2 354.1,203.3 354.6,204.5 355.2,205.3 355.7,207.5 356.2,208.5 356.7,207.3 357.2,211.5 357.7,210.3 358.2,209.6 358.7,203.0 359.2,200.9 359.7,202.4 360.2,198.6 360.7,199.0 361.2,200.6 361.8,197.5 362.3,196.4 362.8,196.1 363.4,197.5 363.9,198.5 364.5,199.3 365.0,199.8 365.6,201.9 366.1,200.3 366.7,199.3 367.2,200.1 367.8,203.0 368.4,202.2 368.9,201.3 369.5,203.6 370.0,206.1 370.6,206.4 371.1,207.0 371.7,205.8 372.2,199.7 372.8,193.6 373.3,193.2 373.8,196.4 374.3,198.0 374.8,200.6 375.3,202.0 375.8,199.6 376.3,199.0 376.9,195.0 377.4,193.4 377.9,191.9 378.4,195.0 378.9,197.0 379.4,197.6 379.9,201.8 380.4,203.6 380.9,202.4 381.5,208.7 382.0,207.3 382.6,208.6 383.1,207.6 383.7,208.7 384.3,206.0 384.8,206.4 385.4,208.0 386.0,203.8 386.5,200.5 387.1,203.6 387.6,200.7 388.1,201.3 388.6,194.9 389.1,194.9 389.6,191.9 390.1,196.4 390.6,195.6 391.1,200.1 391.6,199.2 392.1,203.6 392.7,205.3 393.2,206.4 393.8,207.3 394.4,203.9 394.9,207.1 395.5,207.0 396.0,206.3 396.5,209.0 397.0,206.8 397.5,211.6 398.0,210.3 398.5,207.0 399.0,204.8 399.5,205.9 400.0,201.8 400.5,200.3 401.0,199.4 401.5,197.6 402.0,197.5 402.5,198.0 403.0,196.9 403.5,198.0 404.0,200.7 404.5,201.0 405.0,200.7 405.5,202.0 406.1,203.4 406.6,201.4 407.2,199.6 407.8,200.7 408.3,200.6 408.9,200.3 409.4,200.2 410.0,201.1 410.5,204.6 411.1,204.7 411.6,203.8 412.2,205.3 412.8,205.1 413.3,204.8 413.9,208.9 414.5,207.7 415.0,207.9 415.6,210.3 416.2,208.6 416.7,209.1 417.3,210.4 417.9,209.7 418.4,207.4 419.0,208.7 419.6,210.0 420.2,204.7 420.8,205.1 421.3,206.6 421.9,203.4 422.4,207.0 422.9,207.1 423.5,204.7 424.0,202.9 424.5,203.4 425.1,204.3 425.6,203.8 426.1,203.4 426.7,203.1 427.2,204.7 427.8,202.7 428.3,204.0 428.8,200.3 429.4,202.0 429.9,201.7 430.4,202.8 431.0,200.6 431.5,201.5 432.0,199.4 432.7,192.8 433.4,179.7 434.0,196.8" fill="none" stroke="#c2ba76" stroke-width="1.0" stroke-linejoin="round" stroke-opacity="1.0"/>
<polyline points="59.7,158.9 60.3,159.5 60.9,162.4 61.4,162.6 62.0,169.1 62.6,168.9 63.2,172.8 63.8,174.1 64.5,174.8 65.1,179.0 65.6,178.9 66.2,183.5 66.8,184.8 67.3,183.6 67.9,187.2 68.4,187.4 69.0,192.2 69.5,189.1 70.1,192.5 70.7,189.7 71.2,190.6 71.8,192.4 72.4,162.3 73.1,135.4 73.6,140.2 74.1,145.8 74.6,156.9 75.1,158.9 75.7,160.3 76.2,163.8 76.8,169.0 77.4,168.5 77.9,172.2 78.5,174.0 79.0,174.9 79.6,176.4 80.2,181.1 80.7,178.4 81.2,183.7 81.8,184.0 82.3,183.7 82.8,184.4 83.4,184.7 83.9,190.1 84.4,189.1 84.9,183.0 85.5,172.0 86.0,167.2 86.5,172.6 87.0,172.8 87.6,176.9 88.1,178.2 88.6,182.3 89.1,183.4 89.7,184.5 90.2,183.0 90.8,187.2 91.4,191.9 91.9,190.7 92.4,191.1 92.9,194.2 93.4,190.5 93.9,193.9 94.4,194.1 95.0,192.4 95.5,190.1 96.1,185.0 96.7,184.1 97.2,183.7 97.8,180.7 98.3,179.8 98.8,182.0 99.3,182.4 99.8,183.0 100.3,184.0 100.9,188.2 101.4,184.7 102.0,189.3 102.6,186.1 103.1,189.9 103.7,190.7 104.2,187.2 104.7,185.5 105.2,182.9 105.7,176.5 106.2,175.6 106.7,177.5 107.2,177.8 107.7,176.4 108.2,176.3 108.7,175.6 109.2,172.1 109.7,169.2 110.2,166.8 110.7,158.7 111.2,157.2 111.7,163.0 112.2,161.6 112.7,165.3 113.2,166.6 113.7,174.0 114.2,175.5 114.7,176.8 115.2,180.5 115.7,178.9 116.2,182.3 116.8,181.3 117.3,184.3 117.9,180.2 118.5,184.0 119.0,184.0 119.6,184.0 120.2,184.8 120.7,179.0 121.3,177.8 121.9,177.1 122.4,173.8 123.0,175.6 123.5,180.7 124.0,180.5 124.5,179.3 125.0,177.8 125.5,184.0 126.0,186.1 126.6,187.7 127.2,186.8 127.7,186.9 128.2,187.5 128.8,187.4 129.4,187.0 129.9,187.1 130.5,184.8 131.1,185.4 131.6,184.7 132.2,185.7 132.8,183.7 133.3,187.6 133.8,185.4 134.4,188.5 134.9,188.6 135.5,189.1 136.1,187.7 136.6,186.9 137.2,192.0 137.8,190.1 138.3,188.0 138.9,187.4 139.4,188.8 139.9,190.7 140.4,190.1 140.9,195.3 141.4,194.1 142.0,193.2 142.5,193.9 143.1,191.3 143.7,190.3 144.2,192.2 144.8,190.7 145.4,186.6 145.9,188.9 146.4,184.2 147.0,184.9 147.6,181.1 148.1,179.0 148.6,176.5 149.1,174.5 149.6,178.0 150.1,179.9 150.6,177.3 151.2,179.4 151.8,177.4 152.4,177.6 153.0,176.0 153.5,176.3 154.1,175.5 154.6,172.4 155.1,170.5 155.6,170.4 156.2,166.8 156.7,167.1 157.2,171.1 157.7,175.9 158.3,176.7 158.8,179.4 159.3,183.9 159.8,182.0 160.3,185.4 160.8,186.5 161.3,188.9 161.8,187.2 162.3,189.7 162.8,188.1 163.3,183.9 163.8,179.1 164.3,180.5 164.8,179.7 165.3,171.4 165.8,167.8 166.3,160.5 166.8,155.4 167.4,154.0 167.9,145.8 168.5,143.5 169.1,139.3 169.6,132.6 170.2,130.2 170.7,135.0 171.3,141.4 171.8,150.3 172.3,152.1 172.8,157.2 173.4,161.9 173.9,167.8 174.4,172.1 174.9,171.4 175.4,174.2 175.9,174.1 176.4,173.0 176.9,177.2 177.4,178.5 177.9,173.5 178.4,179.9 178.9,178.8 179.4,178.9 180.0,176.1 180.5,172.8 181.1,168.2 181.7,165.5 182.2,161.1 182.8,155.4 183.3,158.2 183.8,160.7 184.3,161.4 184.8,166.8 185.3,167.1 185.8,168.1 186.3,172.5 186.8,178.0 187.3,182.6 187.8,183.9 188.3,184.4 188.8,188.6 189.3,189.9 189.8,190.3 190.3,190.6 190.9,187.4 191.4,180.3 192.0,180.8 192.6,175.9 193.1,171.6 193.7,170.5 194.2,169.0 194.8,161.2 195.3,161.3 195.9,153.4 196.4,153.0 197.0,148.7 197.6,146.5 198.1,146.8 198.7,147.7 199.3,151.8 199.8,151.7 200.4,150.3 200.9,154.4 201.4,157.3 201.9,166.9 202.4,171.0 202.9,173.8 203.4,176.5 203.9,178.2 204.4,183.4 204.9,179.4 205.4,182.2 206.0,180.0 206.5,180.6 207.1,177.8 207.7,179.3 208.2,174.7 208.8,172.1 209.4,169.1 209.9,167.1 210.4,161.8 211.0,159.8 211.6,152.5 212.1,150.3 212.6,152.4 213.1,149.1 213.6,149.5 214.1,155.5 214.6,153.7 215.1,158.4 215.6,157.9 216.1,168.1 216.6,172.7 217.1,175.5 217.7,176.2 218.2,180.1 218.8,182.8 219.4,185.8 219.9,180.7 220.5,187.2 221.0,185.1 221.5,178.9 222.0,179.2 222.5,176.9 223.0,172.1 223.5,161.2 224.0,153.2 224.5,144.2 225.0,135.8 225.5,125.2 226.0,124.2 226.5,128.8 227.1,134.1 227.6,135.5 228.1,136.9 228.6,143.1 229.1,147.5 229.6,153.4 230.1,158.6 230.6,167.1 231.1,169.4 231.6,172.9 232.1,179.5 232.6,182.1 233.1,183.9 233.6,183.8 234.1,187.9 234.6,186.4 235.1,190.3 235.6,192.3 236.2,191.5 236.7,184.8 237.3,179.6 237.8,182.7 238.4,177.2 238.9,173.3 239.5,173.3 240.1,173.6 240.6,168.7 241.1,164.1 241.7,163.8 242.2,159.1 242.7,157.3 243.2,154.9 243.7,152.1 244.2,147.0 244.7,152.1 245.2,156.9 245.7,158.7 246.2,166.2 246.7,170.5 247.2,172.5 247.7,172.3 248.3,174.9 248.8,178.8 249.3,180.5 249.8,183.3 250.3,181.7 250.8,179.8 251.3,189.0 251.8,185.6 252.3,185.5 252.8,189.0 253.3,185.4 253.8,192.3 254.3,190.6 254.9,191.8 255.4,182.1 256.0,182.5 256.5,176.8 257.1,175.5 257.6,174.0 258.1,175.2 258.6,178.9 259.2,177.8 259.7,182.0 260.2,182.2 260.7,183.3 261.2,188.8 261.7,187.2 262.2,186.3 262.7,187.2 263.2,188.7 263.7,189.0 264.2,189.9 264.7,193.7 265.2,190.6 265.7,187.2 266.2,183.8 266.7,181.7 267.2,177.2 267.7,175.5 268.2,170.2 268.7,169.0 269.2,165.0 269.7,159.4 270.2,158.3 270.7,153.7 271.2,161.1 271.8,162.9 272.3,167.8 272.8,173.8 273.3,174.2 273.8,176.4 274.3,177.1 274.8,178.2 275.3,180.5 275.9,183.7 276.4,185.6 277.0,183.4 277.5,182.8 278.1,189.9 278.6,190.6 279.2,193.9 279.7,193.6 280.3,194.0 280.8,190.3 281.3,184.9 281.8,178.1 282.3,173.9 282.8,172.1 283.4,167.2 283.9,163.2 284.4,157.5 285.0,153.7 285.5,159.9 286.0,159.8 286.5,163.0 287.0,167.1 287.5,166.3 288.0,170.6 288.5,170.7 289.0,173.2 289.5,177.2 290.0,180.8 290.5,183.9 291.0,185.1 291.5,186.0 292.0,188.9 292.6,187.4 293.1,192.0 293.7,190.6 294.2,187.3 294.7,180.2 295.2,177.5 295.7,170.5 296.3,166.6 296.8,160.4 297.4,157.0 297.9,156.3 298.4,161.0 298.9,160.7 299.4,163.6 299.9,164.7 300.4,167.1 301.0,168.9 301.5,169.6 302.1,171.3 302.7,177.4 303.2,179.5 303.8,180.5 304.3,180.7 304.8,183.3 305.3,186.9 305.8,191.1 306.3,190.6 306.8,188.1 307.3,184.8 307.8,177.7 308.3,175.8 308.8,170.5 309.4,167.0 309.9,160.2 310.5,153.7 311.0,157.0 311.5,159.8 312.0,159.2 312.5,166.3 313.0,167.1 313.6,166.4 314.1,171.9 314.7,173.8 315.3,174.2 315.8,178.3 316.4,177.2 316.9,180.1 317.4,180.4 317.9,182.5 318.4,182.3 318.9,185.6 319.4,182.0 319.9,180.6 320.4,173.6 320.9,170.3 321.4,167.1 321.9,163.4 322.4,157.9 322.9,152.6 323.4,147.0 323.9,148.0 324.4,156.4 324.9,160.4 325.4,162.7 325.9,159.6 326.4,167.1 326.9,170.1 327.4,169.4 328.0,173.3 328.5,170.6 329.0,173.8 329.5,178.7 330.0,184.0 330.5,185.8 331.0,186.6 331.6,187.7 332.1,194.7 332.6,192.3 333.1,186.4 333.7,183.7 334.2,177.2 334.8,169.1 335.3,163.3 335.9,158.8 336.4,160.1 336.9,165.7 337.4,166.2 337.9,166.6 338.4,173.9 338.9,172.8 339.4,177.5 339.9,175.4 340.4,177.7 340.9,180.6 341.4,179.9 341.9,182.8 342.5,183.4 343.0,185.2 343.5,187.3 344.0,190.2 344.6,191.8 345.1,192.3 345.6,188.2 346.1,181.5 346.7,178.5 347.2,172.1 347.7,165.5 348.2,160.0 348.8,160.0 349.3,153.8 349.8,158.4 350.3,162.2 350.8,167.1 351.3,172.4 351.8,173.9 352.3,178.2 352.8,174.0 353.4,176.7 353.9,178.6 354.4,177.2 354.9,179.2 355.4,185.4 355.9,181.2 356.4,182.7 356.9,187.3 357.5,190.4 358.0,185.7 358.6,190.7 359.1,186.3 359.6,182.7 360.1,177.9 360.6,174.7 361.1,168.7 361.6,167.2 362.2,166.6 362.7,169.0 363.3,169.8 363.8,172.7 364.4,175.6 365.0,177.3 365.5,173.8 366.1,176.0 366.7,175.9 367.2,177.3 367.8,177.2 368.3,177.0 368.8,183.1 369.3,183.4 369.8,183.6 370.3,185.6 370.8,181.4 371.3,175.6 371.8,169.1 372.3,158.3 372.8,157.1 373.4,163.8 373.9,166.7 374.5,173.9 375.0,167.8 375.5,160.8 376.0,159.1 376.5,153.3 377.0,145.4 377.6,158.8 378.1,168.6 378.7,180.6 379.2,184.4 379.7,183.2 380.2,184.9 380.7,180.8 381.2,184.0 381.7,184.1 382.2,184.4 382.7,187.6 383.2,187.3 383.7,190.7 384.3,186.9 384.8,186.2 385.4,183.7 386.0,185.4 386.5,182.0 387.1,180.6 387.7,179.4 388.2,181.8 388.8,181.5 389.3,183.6 389.8,183.5 390.4,184.0 390.9,185.1 391.5,181.4 392.1,182.7 392.6,181.0 393.2,182.2 393.7,185.8 394.2,185.3 394.8,187.3 395.3,189.0 395.9,191.5 396.4,189.1 396.9,188.1 397.4,182.2 397.9,179.7 398.4,179.2 398.9,177.6 399.4,177.7 399.9,174.5 400.4,176.8 400.9,178.1 401.5,179.1 402.0,175.5 402.5,178.4 403.0,176.9 403.5,179.6 404.0,178.8 404.5,179.7 405.1,174.4 405.8,174.5 406.4,174.5 406.9,175.1 407.4,177.4 407.9,178.2 408.4,179.7 408.9,180.5 409.5,178.2 410.0,179.9 410.6,178.7 411.1,179.7 411.7,181.0 412.2,183.2 412.7,182.5 413.3,181.2 413.8,182.8 414.3,183.7 414.8,181.1 415.3,189.1 415.8,188.7 416.3,191.5 416.8,189.1 417.3,189.2 417.8,190.3 418.3,187.6 418.9,172.6 419.6,163.3 420.2,145.0 420.7,152.1 421.2,160.1 421.7,166.5 422.2,179.7 422.7,179.3 423.2,175.9 423.8,179.8 424.3,174.4 424.8,174.5 425.3,176.5 425.9,175.1 426.4,175.6 427.0,176.6 427.5,178.4 428.1,177.3 428.8,178.5 429.4,174.5 430.0,179.2 430.7,186.3 431.4,179.6 432.0,170.5 432.5,170.1 433.0,167.4 433.5,164.4 434.0,162.6" fill="none" stroke="#a47090" stroke-width="1.0" stroke-linejoin="round" stroke-opacity="1.0"/>
<polyline points="59.7,145.4 60.2,148.1 60.7,151.1 61.2,152.9 61.7,153.8 62.2,154.0 62.7,161.5 63.2,163.9 63.7,164.4 64.2,167.2 64.7,168.8 65.2,167.4 65.7,170.1 66.2,174.0 66.7,174.0 67.2,176.2 67.7,175.9 68.3,173.4 68.8,175.1 69.3,177.3 69.8,180.7 70.3,177.9 70.9,180.1 71.4,180.7 71.9,156.1 72.5,135.5 73.0,113.5 73.5,88.4 74.0,102.8 74.6,122.9 75.1,133.7 75.6,137.5 76.1,144.7 76.7,143.7 77.2,147.0 77.7,150.5 78.2,149.5 78.7,150.7 79.2,157.9 79.7,151.8 80.2,157.2 80.7,159.5 81.2,158.6 81.7,163.9 82.2,164.0 82.7,165.6 83.3,164.8 83.8,167.1 84.4,167.2 85.1,152.3 85.7,138.7 86.2,142.1 86.7,144.7 87.2,149.3 87.7,153.8 88.3,153.8 88.8,153.9 89.4,157.2 90.0,160.7 90.5,166.8 91.1,170.6 91.6,171.6 92.1,177.3 92.6,177.9 93.1,177.4 93.6,180.7 94.1,177.2 94.6,178.1 95.1,174.8 95.6,176.5 96.1,172.3 96.6,166.0 97.1,163.1 97.6,162.4 98.1,154.6 98.6,150.5 99.1,154.4 99.6,154.5 100.1,158.0 100.6,158.9 101.1,160.3 101.7,162.1 102.2,168.9 102.8,168.9 103.3,169.9 103.8,173.3 104.3,170.2 104.8,168.0 105.3,170.6 106.0,153.9 106.7,138.7 107.3,141.3 107.8,149.1 108.4,153.8 109.0,147.8 109.5,140.9 110.1,133.0 110.6,121.2 111.2,115.2 111.7,120.8 112.2,125.7 112.7,131.3 113.2,139.0 113.7,143.8 114.2,146.0 114.7,152.8 115.2,156.0 115.7,157.2 116.2,160.4 116.8,159.0 117.4,159.1 117.9,162.2 118.5,160.1 119.0,162.9 119.6,160.5 120.2,155.0 120.7,153.4 121.3,150.5 121.9,155.0 122.4,157.2 123.0,157.2 123.5,155.2 124.1,151.5 124.6,150.5 125.2,152.3 125.7,157.8 126.3,160.5 126.8,162.5 127.3,163.0 127.8,165.0 128.3,165.3 128.8,163.9 129.3,168.0 129.8,167.5 130.3,168.2 130.8,168.4 131.3,172.3 131.8,172.4 132.3,169.5 132.9,171.1 133.4,169.2 133.9,167.2 134.4,165.7 135.0,158.4 135.5,155.5 136.1,153.9 136.6,151.1 137.2,150.5 137.8,150.8 138.3,155.3 138.9,157.2 139.4,156.7 139.9,155.9 140.4,154.6 140.9,153.7 141.4,155.5 142.0,163.6 142.5,169.1 143.1,177.3 143.7,170.8 144.2,165.9 144.8,157.2 145.4,154.3 145.9,152.1 146.4,150.7 147.0,147.1 147.5,148.1 148.0,145.9 148.5,143.6 149.0,143.8 149.5,138.5 150.1,137.2 150.6,135.4 151.1,140.2 151.6,136.3 152.1,139.8 152.6,142.0 153.1,140.6 153.6,141.8 154.1,135.2 154.6,134.2 155.1,133.6 155.6,127.3 156.2,121.8 156.7,115.1 157.3,124.8 157.8,137.5 158.4,150.3 158.9,151.5 159.4,154.5 159.9,155.6 160.4,162.1 160.9,160.4 161.4,163.7 161.9,166.1 162.5,167.1 163.0,170.3 163.5,172.1 164.0,168.9 164.6,162.8 165.1,155.4 165.8,142.6 166.5,130.0 167.0,116.1 167.5,100.0 168.4,70.3 169.3,78.0 170.0,85.0 170.8,110.0 171.6,135.0 172.2,138.6 172.7,146.3 173.3,147.0 173.8,149.0 174.4,153.7 174.9,156.7 175.4,160.2 175.9,159.4 176.4,159.4 176.9,163.8 177.5,161.5 178.0,164.7 178.6,168.8 179.1,165.1 179.7,153.4 180.2,150.3 180.7,145.7 181.2,140.7 181.8,133.1 182.3,127.0 182.8,123.5 183.3,125.7 183.8,124.9 184.3,132.8 184.8,134.6 185.3,136.9 185.8,141.8 186.3,151.3 186.8,155.3 187.3,156.1 187.8,163.8 188.4,167.0 188.9,173.9 189.5,178.9 190.0,176.2 190.5,171.6 191.0,168.6 191.5,166.9 192.0,163.8 192.6,159.0 193.1,158.1 193.6,154.6 194.2,150.0 194.8,135.3 195.3,125.0 195.8,108.4 196.3,96.0 196.8,95.8 197.4,96.5 197.9,93.8 198.4,94.0 199.0,96.0 199.6,102.1 200.5,110.0 201.3,140.0 201.9,143.6 202.5,152.0 203.1,151.4 203.7,157.7 204.2,155.6 204.8,161.2 205.4,160.4 206.0,164.3 206.5,165.5 207.1,167.1 207.7,160.0 208.4,156.3 209.0,150.0 209.6,134.4 210.2,120.0 210.8,110.7 211.3,98.0 211.8,101.1 212.3,101.0 212.9,102.3 213.4,100.0 213.9,105.5 214.5,110.0 215.4,140.0 216.1,147.2 216.8,152.0 217.3,151.9 217.8,157.8 218.3,161.7 218.8,163.8 219.3,165.1 219.8,169.4 220.3,167.9 220.8,168.8 221.3,172.1 221.9,162.5 222.6,159.3 223.2,150.0 223.7,135.3 224.2,120.0 224.8,87.0 225.4,86.3 225.9,79.0 226.5,80.0 227.2,78.1 227.8,73.6 228.6,80.0 229.3,110.0 230.0,140.0 230.7,148.6 231.4,150.0 232.0,158.0 232.5,162.3 233.1,167.1 233.7,169.1 234.4,167.6 235.0,170.5 235.5,166.3 236.0,164.9 236.5,167.9 237.0,162.8 237.5,162.1 238.0,157.0 238.5,155.2 239.0,148.7 239.5,148.3 240.0,142.0 240.5,137.3 241.0,136.2 241.6,126.4 242.1,126.2 242.6,120.1 243.1,118.3 243.6,112.0 244.1,31.0 244.6,112.0 245.2,121.4 245.9,133.6 246.5,130.6 247.1,131.9 247.8,141.3 248.4,148.7 248.9,151.2 249.4,151.3 249.9,155.9 250.4,158.7 250.9,159.4 251.5,154.6 252.1,155.7 252.6,153.7 253.1,151.3 253.6,147.9 254.1,152.6 254.6,147.2 255.1,148.7 255.6,144.6 256.1,140.1 256.6,137.9 257.1,132.7 257.7,134.8 258.2,140.7 258.8,140.2 259.3,145.3 259.8,145.5 260.3,151.6 260.8,148.3 261.3,156.2 261.8,157.0 262.3,160.9 262.8,163.0 263.4,167.1 263.9,171.1 264.4,172.1 264.9,167.2 265.4,166.1 265.9,161.5 266.4,163.7 266.9,158.7 267.4,151.2 267.9,149.6 268.4,146.8 268.9,140.2 269.4,133.6 270.0,120.6 270.7,113.4 271.2,119.7 271.8,123.6 272.3,129.6 272.8,138.6 273.3,139.7 273.8,146.5 274.3,148.2 274.8,150.3 275.3,153.7 275.8,152.6 276.3,157.6 276.8,161.1 277.3,165.5 277.8,168.8 278.5,146.8 279.1,121.8 279.7,141.8 280.3,163.8 280.8,158.2 281.3,152.7 281.8,149.9 282.3,144.7 282.8,136.9 283.4,125.9 283.9,116.4 284.5,110.1 285.1,117.2 285.6,125.5 286.2,130.2 286.7,132.7 287.2,136.7 287.7,141.5 288.2,144.9 288.7,150.3 289.2,151.7 289.7,157.5 290.2,159.0 290.7,159.2 291.2,163.8 291.8,163.7 292.3,171.8 292.9,173.8 293.5,169.9 294.0,162.9 294.6,155.4 295.2,148.5 295.7,139.8 296.3,136.2 296.8,129.1 297.4,121.8 297.9,124.2 298.5,134.5 299.1,140.9 299.6,147.0 300.1,148.4 300.6,150.8 301.1,147.8 301.6,153.0 302.1,155.4 302.6,158.3 303.1,155.2 303.6,162.0 304.1,165.7 304.6,165.4 305.2,164.4 305.7,170.1 306.3,170.5 306.8,168.8 307.3,163.4 307.8,159.6 308.3,152.8 308.8,150.3 309.4,145.4 309.9,138.8 310.5,129.4 311.0,136.6 311.5,138.4 312.0,139.5 312.5,143.9 313.0,148.7 313.5,152.1 314.0,153.0 314.5,152.4 315.0,154.3 315.5,157.0 316.0,155.6 316.5,159.3 317.1,161.9 317.6,163.1 318.1,163.8 318.6,160.9 319.1,156.2 319.6,155.0 320.1,154.3 320.6,145.8 321.1,145.4 321.6,142.0 322.1,127.8 322.6,116.8 323.1,114.2 323.7,111.7 324.2,107.6 324.8,122.5 325.4,142.0 325.9,145.7 326.4,144.9 326.9,148.5 327.5,148.2 328.0,153.3 328.5,151.4 329.0,155.4 329.5,154.8 330.1,162.4 330.6,163.8 331.1,164.3 331.6,166.9 332.1,168.4 332.6,167.2 333.1,161.5 333.7,156.8 334.2,148.7 334.8,143.6 335.3,134.4 335.9,128.6 336.5,136.2 337.0,141.2 337.6,145.4 338.1,150.0 338.6,147.5 339.1,154.8 339.6,152.2 340.1,157.1 340.6,156.6 341.1,157.7 341.6,162.8 342.1,159.8 342.6,158.8 343.2,160.8 343.7,166.5 344.3,167.2 344.9,162.9 345.4,164.1 346.0,163.8 346.5,163.4 347.0,152.6 347.5,146.9 348.0,144.0 348.5,138.7 349.1,141.5 349.6,149.5 350.2,152.1 350.7,152.9 351.2,151.9 351.7,153.2 352.2,153.6 352.7,157.1 353.2,159.8 353.7,155.6 354.2,156.5 354.7,155.9 355.2,158.8 355.7,162.2 356.2,162.6 356.7,159.3 357.2,164.2 357.7,163.8 358.3,164.0 358.8,161.3 359.4,158.8 359.9,155.7 360.5,151.2 361.1,149.7 361.6,144.5 362.1,146.5 362.6,146.6 363.1,149.7 363.6,153.8 364.1,153.1 364.6,157.5 365.1,154.4 365.6,154.9 366.1,155.4 366.6,156.9 367.1,155.0 367.6,155.2 368.1,160.2 368.6,158.8 369.2,166.2 369.7,164.9 370.3,167.2 370.8,163.4 371.4,158.1 371.9,160.0 372.8,121.9 373.6,157.1 374.5,157.1 375.0,155.6 375.5,159.3 376.0,157.7 376.5,161.9 377.0,160.5 377.6,161.9 378.1,160.7 378.7,163.8 379.2,163.8 379.7,166.1 380.2,168.8 380.7,163.8 381.2,168.9 381.7,168.0 382.2,167.4 382.7,171.9 383.2,170.2 383.7,173.9 384.2,170.6 384.7,166.1 385.2,165.6 385.7,165.4 386.2,160.5 386.7,160.4 387.2,160.0 387.9,108.5 388.6,162.1 389.1,164.4 389.6,162.1 390.1,165.0 390.6,161.0 391.1,160.9 391.6,164.7 392.1,163.8 392.6,161.9 393.1,160.1 393.6,161.5 394.1,157.7 394.6,157.1 395.1,159.8 395.6,159.0 396.1,166.2 396.6,165.7 397.1,168.9 397.6,165.1 398.1,159.5 398.7,155.3 399.2,152.4 399.7,150.4 400.2,155.9 400.8,161.3 401.3,163.8 401.8,165.2 402.3,163.5 402.9,162.0 403.4,162.2 403.9,162.1 404.4,161.0 404.9,161.6 405.4,158.2 405.9,155.4 406.4,158.1 407.0,161.9 407.6,159.4 408.1,163.8 408.6,166.9 409.1,163.7 409.6,165.2 410.2,164.2 410.7,162.7 411.2,162.8 411.7,162.9 412.2,164.7 412.7,163.4 413.2,161.8 413.7,162.3 414.3,166.8 415.0,167.2 415.6,168.8 416.1,167.0 416.6,169.5 417.1,168.9 417.6,168.8 418.1,167.5 418.6,167.6 419.2,171.9 419.7,167.4 420.2,170.2 420.7,169.9 421.2,171.2 421.7,166.8 422.2,167.5 422.7,165.8 423.2,162.6 423.7,160.0 424.2,159.6 424.8,163.6 425.5,163.9 426.1,166.2 426.6,165.4 427.1,169.8 427.6,168.1 428.1,171.5 428.8,169.0 429.4,168.8 429.9,165.5 430.4,165.8 430.9,163.1 431.4,162.3 431.9,159.5 432.4,162.9 432.9,159.2 433.4,159.6 434.0,160.9 434.7,157.0 435.3,164.9" fill="none" stroke="#706f9e" stroke-width="1.0" stroke-linejoin="round" stroke-opacity="1.0"/>
</g>
<path d="M243.7,118 L244.1,31 L244.5,118" fill="none" stroke="#726a9c" stroke-width="0.9"/>
<line x1="410.2" y1="102.5" x2="410.2" y2="168" stroke="#7c74a0" stroke-width="1.1"/>
<line x1="410.2" y1="168" x2="410.2" y2="192" stroke="#a07494" stroke-width="1.1"/>
<line x1="410.2" y1="192" x2="410.2" y2="232" stroke="#72a084" stroke-width="1.1"/>
<line x1="405.5" y1="185" x2="405.5" y2="255" stroke="#7080a8" stroke-width="1.1"/>
<rect x="139.7" y="43.4" width="94.2" height="216" fill="none" stroke="#5c5c5c" stroke-width="1.15" stroke-dasharray="3.3,2.2"/>
<line x1="51.1" y1="24" x2="51.1" y2="264.9" stroke="#333" stroke-width="1.7"/>
<line x1="50.3" y1="264.1" x2="442.2" y2="264.1" stroke="#333" stroke-width="1.7"/>
<text x="31.4" y="51.6" font-size="15.5" text-anchor="end" fill="#363636" textLength="29.6" lengthAdjust="spacingAndGlyphs">0.12</text>
<rect x="36.6" y="45.3" width="4.6" height="1.3" fill="#333"/>
<text x="31.4" y="85.5" font-size="15.5" text-anchor="end" fill="#363636" textLength="29.6" lengthAdjust="spacingAndGlyphs">0.10</text>
<rect x="36.6" y="79.2" width="4.6" height="1.3" fill="#333"/>
<text x="31.4" y="119.2" font-size="15.5" text-anchor="end" fill="#363636" textLength="29.6" lengthAdjust="spacingAndGlyphs">0.08</text>
<rect x="36.6" y="112.9" width="4.6" height="1.3" fill="#333"/>
<text x="31.4" y="153.0" font-size="15.5" text-anchor="end" fill="#363636" textLength="29.6" lengthAdjust="spacingAndGlyphs">0.06</text>
<rect x="36.6" y="146.7" width="4.6" height="1.3" fill="#333"/>
<text x="31.4" y="186.79999999999998" font-size="15.5" text-anchor="end" fill="#363636" textLength="29.6" lengthAdjust="spacingAndGlyphs">0.04</text>
<rect x="36.6" y="180.5" width="4.6" height="1.3" fill="#333"/>
<text x="31.4" y="220.6" font-size="15.5" text-anchor="end" fill="#363636" textLength="29.6" lengthAdjust="spacingAndGlyphs">0.02</text>
<rect x="36.6" y="214.3" width="4.6" height="1.3" fill="#333"/>
<text x="31.4" y="254.39999999999998" font-size="15.5" text-anchor="end" fill="#363636" textLength="7.5" lengthAdjust="spacingAndGlyphs">0</text>
<rect x="36.6" y="248.1" width="4.6" height="1.3" fill="#333"/>
<text x="46.4" y="16.3" font-size="13.8" text-anchor="start" fill="#363636">R</text>
<rect x="60.8" y="270.4" width="1.4" height="4.7" fill="#333"/>
<text x="61.5" y="292.6" font-size="15.5" text-anchor="middle" fill="#363636" textLength="24" lengthAdjust="spacingAndGlyphs">100</text>
<rect x="110.0" y="270.4" width="1.4" height="4.7" fill="#333"/>
<text x="110.7" y="292.6" font-size="15.5" text-anchor="middle" fill="#363636" textLength="24" lengthAdjust="spacingAndGlyphs">200</text>
<rect x="159.1" y="270.4" width="1.4" height="4.7" fill="#333"/>
<text x="159.8" y="292.6" font-size="15.5" text-anchor="middle" fill="#363636" textLength="24" lengthAdjust="spacingAndGlyphs">300</text>
<rect x="208.2" y="270.4" width="1.4" height="4.7" fill="#333"/>
<text x="208.9" y="292.6" font-size="15.5" text-anchor="middle" fill="#363636" textLength="24" lengthAdjust="spacingAndGlyphs">400</text>
<rect x="257.4" y="270.4" width="1.4" height="4.7" fill="#333"/>
<text x="258.1" y="292.6" font-size="15.5" text-anchor="middle" fill="#363636" textLength="24" lengthAdjust="spacingAndGlyphs">500</text>
<rect x="306.6" y="270.4" width="1.4" height="4.7" fill="#333"/>
<text x="307.2" y="292.6" font-size="15.5" text-anchor="middle" fill="#363636" textLength="24" lengthAdjust="spacingAndGlyphs">600</text>
<rect x="355.7" y="270.4" width="1.4" height="4.7" fill="#333"/>
<text x="356.4" y="292.6" font-size="15.5" text-anchor="middle" fill="#363636" textLength="24" lengthAdjust="spacingAndGlyphs">700</text>
<rect x="404.9" y="270.4" width="1.4" height="4.7" fill="#333"/>
<text x="405.6" y="292.6" font-size="15.5" text-anchor="middle" fill="#363636" textLength="24" lengthAdjust="spacingAndGlyphs">800</text>
<text x="455.7" y="268" font-size="15.5" text-anchor="start" fill="#363636" textLength="55" lengthAdjust="spacingAndGlyphs">time (h)</text>
<circle cx="425.2" cy="50.1" r="5.8" fill="none" stroke="#1a1a1a" stroke-width="1.4"/>
<line x1="431.2" y1="43.6" x2="431.2" y2="56.6" stroke="#1a1a1a" stroke-width="1.5"/>
</g>
<line x1="183.9" y1="259.5" x2="183.9" y2="329" stroke="#a6a6a2" stroke-width="1.4"/>
<path d="M180.8,327.4 L183.9,333 L187,327.4 Z" fill="#a6a6a2"/>
<g id="bottom">
<g filter="url(#soft)">
<polyline points="58.4,564.0 60.0,564.7 61.7,564.9 63.4,564.4 65.1,563.2 66.8,564.0 68.5,564.9 70.2,563.8 71.8,563.2 73.5,561.9 75.2,561.5 76.8,562.9 78.5,564.0 80.2,563.6 81.9,563.2 83.6,564.3 85.2,564.9 87.8,561.5 88.9,556.5 90.6,569.1 92.8,564.9 94.4,564.3 96.1,564.0 97.8,565.0 99.5,565.4 101.2,564.7 102.9,564.4 104.6,565.0 106.2,564.9 107.9,564.7 109.6,564.0 111.2,564.4 112.9,564.9 114.6,565.3 116.3,565.7 118.8,561.5 121.3,564.9 123.0,564.2 124.7,563.2 127.2,565.7 129.7,560.7 132.2,554.0 133.9,560.7 135.6,556.5 138.1,560.7 139.8,560.4 141.4,560.7 143.1,561.6 144.8,562.3 146.9,562.1 148.6,561.2 150.3,559.6 151.9,560.6 153.6,562.1 155.3,562.0 157.0,561.2 158.7,562.2 160.3,562.9 162.9,564.6 165.4,562.9 167.1,563.7 168.7,563.8 170.4,563.2 172.1,562.9 173.8,562.1 175.4,562.1 177.1,562.0 178.8,561.2 180.4,562.0 182.1,562.1 183.8,562.4 185.5,562.9 187.2,562.7 188.9,563.4 190.6,562.8 192.2,562.9 193.9,563.5 195.6,563.8 197.2,563.6 198.9,563.8 200.6,564.7 202.3,564.6 203.9,565.1 205.6,565.4 206.7,567.1 209.2,568.0 211.7,565.4 213.4,565.6 215.1,566.3 217.6,563.8 219.3,561.2 221.8,562.1 224.3,562.9 226.8,561.2 228.9,563.8 230.5,559.6 231.9,562.9 233.6,562.2 235.2,561.2 236.9,561.9 238.6,562.9 240.2,562.9 241.9,562.1 243.6,563.4 245.3,563.8 247.0,563.4 248.7,562.9 250.3,563.5 252.0,563.8 253.7,564.4 255.4,564.6 257.9,562.9 260.4,566.3 262.1,565.8 263.8,564.6 265.5,564.2 267.1,562.9 269.6,564.6 271.3,562.4 273.0,561.2 274.6,561.9 276.3,562.9 277.7,562.7 279.1,562.2 280.5,562.1 282.2,563.0 283.9,563.8 285.5,562.5 287.2,562.1 288.9,561.2 290.6,559.6 292.5,562.1 295.0,561.2 296.7,562.5 298.4,563.8 300.0,563.8 301.7,564.6 303.4,564.8 305.1,564.6 306.8,565.3 308.5,566.3 311.0,565.4 312.6,564.3 314.3,563.8 316.0,563.3 317.7,562.9 319.4,562.5 321.0,562.9 322.3,561.0 323.6,559.6 325.2,560.4 326.9,560.4 328.6,559.7 330.3,558.7 332.8,557.9 335.3,559.6 337.8,558.7 340.3,559.6 342.9,560.4 345.4,562.1 347.0,562.9 348.7,564.6 350.4,564.9 352.1,564.6 353.8,563.7 355.4,563.8 357.1,564.0 358.8,564.6 360.5,565.4 362.1,565.4 363.8,565.1 365.5,564.6 367.2,565.3 368.9,566.3 370.5,565.7 372.2,565.4 373.9,565.3 375.6,565.5 377.0,564.7 378.4,564.7 379.8,564.9 381.2,564.1 382.6,563.8 384.0,564.4 385.4,564.5 386.8,564.7 388.2,564.1 389.6,563.0 391.7,560.2 393.1,562.3 395.2,563.7 397.3,563.0 399.4,562.3 401.5,566.5 403.6,565.1 405.0,563.9 406.4,563.0 407.8,564.2 409.2,564.4 410.6,564.5 412.0,565.1 413.4,565.2 414.8,564.4 416.9,563.0 419.0,566.5 421.0,565.1 423.1,564.4 425.2,567.9 427.3,565.8 429.4,565.1 431.5,564.4" fill="none" stroke="#8088aa" stroke-width="1.15" stroke-linejoin="round" stroke-opacity="1.0"/>
<polyline points="58.4,543.9 60.9,540.5 63.4,543.9 65.1,542.0 66.8,540.5 69.3,542.2 71.8,541.4 74.3,539.7 76.8,542.2 78.5,541.5 80.2,541.4 81.9,541.1 83.6,540.5 86.1,539.7 88.6,536.3 90.3,544.7 91.9,538.9 94.5,542.2 96.2,543.0 97.8,544.7 99.2,545.0 100.6,545.2 102.0,545.6 103.7,544.3 105.4,543.9 107.1,542.2 108.7,540.5 111.2,543.9 112.9,543.8 114.6,544.7 117.1,544.7 118.6,542.0 120.1,539.4 121.8,537.3 123.4,536.1 125.1,534.0 126.8,532.7 129.3,530.2 131.0,528.4 132.7,526.8 135.2,529.4 137.7,531.9 140.2,536.1 142.7,534.4 144.4,536.4 146.1,537.8 148.6,539.4 151.1,541.9 152.8,538.6 155.3,540.3 157.0,539.5 158.7,539.4 160.3,539.6 162.0,540.3 163.7,541.2 165.4,541.9 167.1,541.5 168.7,540.3 170.4,539.1 172.1,537.8 173.8,536.4 175.4,535.2 177.1,536.5 178.8,536.9 180.4,535.6 182.1,535.2 183.8,536.9 185.5,537.8 187.2,536.7 188.9,536.1 190.6,536.6 192.2,537.8 193.9,538.2 195.6,539.4 197.2,539.7 198.9,540.3 200.6,542.3 202.3,543.6 203.9,544.1 205.6,545.3 206.7,547.0 209.2,546.1 211.7,545.3 213.0,546.6 214.3,547.8 216.8,543.6 219.3,541.9 221.8,540.3 223.5,539.2 225.2,537.8 227.7,536.1 230.2,535.2 232.7,534.4 235.2,532.7 236.9,535.2 238.9,533.6 241.1,537.8 243.6,540.3 246.1,541.9 248.7,541.1 251.2,544.5 253.7,547.0 256.2,545.3 257.9,542.8 260.4,545.3 262.1,545.2 263.8,545.3 265.5,544.5 267.1,543.6 268.8,541.5 270.5,540.3 272.1,536.9 273.8,534.4 275.5,533.7 277.2,533.6 278.9,533.3 280.5,532.7 281.8,533.5 283.1,534.4 284.7,530.2 287.2,533.6 288.6,533.0 290.0,532.7 292.5,536.1 295.0,540.3 296.7,542.0 298.4,543.6 300.0,544.8 301.7,546.1 303.4,546.7 305.1,547.8 306.8,547.7 308.5,547.0 311.0,548.7 313.5,545.3 316.0,547.0 317.7,544.5 320.2,547.0 322.7,540.3 325.2,538.6 326.5,537.1 327.8,535.2 330.3,528.5 331.9,531.9 333.3,535.2 334.5,530.2 337.0,531.9 339.5,533.6 342.0,536.1 344.5,540.3 347.0,539.4 348.3,542.1 349.6,545.3 352.1,547.8 353.8,548.7 355.4,549.5 357.1,549.9 358.8,550.3 361.3,551.2 363.8,553.7 366.3,552.0 368.9,550.3 370.0,549.6 371.4,548.9 372.8,547.5 374.2,546.7 375.6,545.4 377.0,544.1 378.4,543.3 379.8,544.5 381.2,544.7 383.3,541.9 385.4,540.5 386.8,540.5 388.2,541.2 389.6,541.8 391.0,542.6 392.4,541.8 393.8,540.5 395.2,541.2 396.6,542.6 398.0,543.3 399.4,544.0 401.5,546.8 403.6,544.0 405.7,546.1 407.8,547.5 409.9,546.1 412.0,548.2 413.4,547.4 414.8,547.5 416.2,548.7 417.6,549.6 419.0,549.2 420.4,548.2 421.8,549.3 423.2,550.3 424.6,549.6 426.0,548.2 427.4,547.9 428.8,548.0 430.2,548.3 431.6,548.2" fill="none" stroke="#86ae96" stroke-width="1.15" stroke-linejoin="round" stroke-opacity="1.0"/>
<polyline points="58.4,508.7 60.0,508.0 61.7,507.8 64.3,507.0 65.9,504.5 67.1,500.3 68.5,502.8 70.2,502.0 71.8,500.3 73.5,499.7 75.2,499.9 76.8,500.3 78.5,500.3 81.0,501.9 83.6,501.1 86.1,504.5 87.8,500.3 89.4,496.9 91.9,501.9 94.5,504.5 97.0,503.6 99.5,504.5 102.0,508.7 104.5,507.8 107.0,505.3 109.6,507.8 112.1,506.1 114.6,509.5 117.1,505.3 118.4,502.2 120.1,498.6 121.7,495.5 124.3,490.5 126.8,487.1 128.4,485.9 130.1,483.8 132.7,478.7 135.2,473.7 136.8,468.7 138.9,480.4 140.4,484.3 141.9,488.8 143.6,492.7 145.2,496.3 146.9,497.1 148.6,498.0 151.1,499.7 153.6,500.5 155.6,498.0 157.8,502.2 160.3,500.5 162.3,505.6 163.9,502.2 165.4,498.9 167.9,495.5 170.4,497.2 172.9,496.3 175.4,492.1 177.1,490.8 178.8,489.6 181.3,491.3 183.8,490.5 185.5,492.7 187.2,495.5 188.8,497.5 190.5,498.9 192.2,500.1 193.9,502.2 195.6,503.6 197.2,505.6 198.6,507.9 200.0,511.0 201.4,514.0 203.4,515.6 205.1,516.0 206.7,516.5 209.2,518.2 211.7,515.6 213.4,514.4 215.1,512.3 217.6,508.9 220.1,505.6 222.7,505.6 225.2,498.9 227.7,490.5 230.2,484.6 232.7,483.8 235.2,486.3 236.5,487.0 237.8,488.0 240.3,487.1 241.9,493.8 243.6,500.5 245.3,507.2 247.8,505.6 250.3,510.6 252.9,512.3 255.4,511.4 257.9,510.6 260.4,514.8 262.9,511.4 265.4,512.3 266.7,509.0 268.0,506.4 270.5,508.9 273.0,498.9 275.5,490.5 278.0,488.0 280.5,488.8 281.8,488.2 283.1,488.0 285.6,487.1 288.1,486.3 290.6,488.8 291.7,497.2 294.2,503.9 296.7,508.9 299.2,510.6 301.7,512.3 303.0,513.2 304.3,513.1 306.8,514.8 309.3,515.6 311.0,518.2 313.5,515.6 316.0,516.5 318.5,514.8 321.0,515.6 322.7,507.2 325.2,497.2 326.5,491.7 327.8,487.1 329.4,481.2 331.1,482.9 333.6,480.4 336.1,479.6 338.7,481.2 341.2,485.4 342.9,492.1 344.5,502.2 346.2,507.2 348.7,510.6 351.2,515.6 352.5,518.3 353.8,520.7 356.3,522.3 358.0,524.9 359.6,527.4 361.3,524.9 363.8,527.4 366.3,525.7 368.9,529.9 370.0,525.8 371.4,522.9 372.8,520.2 374.2,518.3 375.6,516.0 377.0,513.7 378.4,511.8 380.5,507.6 382.6,504.8 384.0,501.3 386.1,502.7 388.2,502.0 390.3,506.2 392.1,497.8 393.8,495.7 395.2,502.0 396.6,509.0 398.0,512.0 399.4,514.6 400.8,514.9 402.2,515.3 404.3,520.2 406.4,517.4 408.5,515.3 409.9,520.2 412.0,519.5 414.1,521.6 416.2,524.4 418.3,520.2 420.4,523.7 422.5,525.8 423.9,527.2 426.0,523.0 428.1,521.6 430.2,520.9 432.3,522.3" fill="none" stroke="#c2bc88" stroke-width="1.15" stroke-linejoin="round" stroke-opacity="1.0"/>
<polyline points="59.2,477.4 60.9,472.3 63.4,476.5 65.1,472.3 66.8,468.2 68.5,470.7 70.1,476.5 71.4,475.6 72.7,474.9 75.2,475.7 77.7,468.2 79.3,468.6 81.0,469.8 82.7,470.6 84.4,470.7 86.1,469.4 87.8,469.0 89.8,457.2 91.9,469.0 93.6,476.5 96.1,473.2 97.4,471.1 98.7,469.0 101.2,474.0 103.7,479.1 105.4,474.0 107.9,478.2 110.4,474.9 112.1,475.3 113.8,474.9 115.2,472.2 116.7,470.3 119.2,472.9 120.9,465.3 123.4,458.6 125.9,451.9 127.6,446.8 130.1,448.5 131.8,435.1 133.5,431.7 135.2,438.5 137.2,421.7 138.9,438.5 141.0,441.8 143.6,450.2 146.1,456.9 148.6,464.5 151.1,465.3 153.6,467.0 155.6,461.1 157.8,467.0 160.3,467.8 162.3,470.3 164.5,465.3 166.2,462.8 167.9,467.0 169.6,465.3 172.1,468.7 174.6,461.9 176.8,451.9 178.5,448.5 180.1,438.5 181.8,451.9 183.8,455.2 185.5,457.8 187.2,460.3 188.8,462.9 190.5,465.3 192.2,468.2 193.9,472.0 196.4,470.3 198.9,480.4 200.5,486.0 201.9,488.9 203.4,492.1 205.1,493.2 206.7,493.8 208.4,492.5 210.1,491.3 211.7,493.8 213.4,487.1 215.1,484.8 216.8,482.1 219.3,478.7 221.8,472.0 224.3,465.3 226.8,456.9 229.4,448.5 231.9,451.0 234.4,449.4 236.9,450.2 238.9,457.8 241.1,444.3 242.8,460.3 244.5,468.7 247.0,477.0 249.0,474.5 250.3,478.7 252.9,483.8 255.4,485.4 257.9,482.9 260.4,480.4 262.9,482.9 265.4,484.6 266.7,481.3 268.0,478.7 270.5,475.4 272.1,477.9 273.8,463.6 276.3,456.9 278.9,450.2 280.5,449.4 282.2,456.9 283.9,453.6 286.4,454.4 288.9,451.0 290.3,448.0 291.7,453.6 293.4,463.6 295.9,472.0 298.4,477.0 300.9,482.1 303.4,484.6 305.9,485.4 307.2,486.8 308.5,488.8 311.0,487.1 313.5,493.8 316.0,485.4 317.7,488.8 319.4,482.1 321.0,488.8 322.7,475.4 325.2,456.9 326.5,448.1 327.8,440.1 329.8,430.1 331.6,440.1 333.3,445.2 335.0,448.5 336.6,444.3 338.7,449.4 340.3,445.2 341.7,441.0 343.4,462.0 345.0,478.7 346.7,469.5 348.4,478.7 350.4,490.5 352.9,493.8 354.6,498.9 357.1,497.2 359.6,502.2 362.1,504.7 364.7,507.2 366.8,502.2 368.9,507.2 370.0,502.0 371.4,499.9 372.8,497.8 374.2,495.4 375.6,492.2 377.0,489.4 378.7,495.7 380.5,488.0 382.6,485.9 384.0,483.1 385.7,476.8 387.5,480.3 389.6,481.0 391.9,414.0 393.9,460.0 395.2,474.0 397.3,485.2 399.4,488.7 401.9,485.2 403.6,493.6 405.3,497.8 407.1,502.0 408.9,495.0 410.6,499.2 412.7,498.5 414.5,500.6 416.2,504.8 418.3,500.6 420.4,496.4 422.5,499.2 424.6,503.4 426.0,505.6 427.4,507.6 429.5,504.8 431.6,501.3 433.0,499.9" fill="none" stroke="#aa80a0" stroke-width="1.15" stroke-linejoin="round" stroke-opacity="1.0"/>
<polyline points="59.2,432.1 61.7,432.4 64.3,437.1 65.9,425.4 67.6,411.1 69.3,415.3 71.0,422.9 72.3,415.3 73.5,420.3 75.2,417.0 76.8,414.5 78.1,414.6 79.4,414.5 81.9,415.3 84.4,412.8 86.1,408.6 87.8,407.8 89.9,387.6 91.9,403.6 93.6,422.0 96.1,423.7 98.3,406.1 100.0,425.4 101.2,432.9 103.4,429.6 105.4,433.8 107.9,438.8 110.1,442.1 112.1,427.9 113.4,440.5 114.6,433.8 116.7,439.1 119.2,418.9 120.9,410.5 122.6,397.1 124.3,382.0 125.9,373.6 127.6,372.8 129.3,363.6 131.0,356.8 132.7,339.2 134.3,348.5 136.0,355.2 137.7,350.1 138.5,363.6 140.2,383.7 142.7,393.8 145.2,405.5 146.5,408.8 147.8,412.2 150.3,420.6 152.8,426.5 154.5,408.0 156.1,425.6 158.7,426.5 161.2,425.6 162.9,434.0 164.5,429.8 166.2,432.3 167.9,424.0 170.4,413.9 172.1,412.2 174.6,402.1 177.1,392.1 178.8,389.2 180.5,386.2 182.2,388.9 183.8,392.1 185.5,394.9 187.2,397.1 189.7,403.8 192.2,412.2 194.7,421.4 197.2,421.4 198.5,428.0 199.8,434.0 202.3,444.1 203.4,448.5 205.1,452.0 206.7,455.2 209.2,452.7 211.7,451.0 213.0,448.6 214.3,446.8 216.8,440.1 219.3,430.1 221.0,420.0 222.7,415.6 225.2,412.2 226.8,388.7 228.5,377.8 230.2,378.7 232.7,377.0 234.4,377.0 236.1,383.7 238.6,388.7 240.3,384.5 241.9,403.8 243.6,413.9 245.3,423.4 247.8,433.4 250.3,439.3 252.9,441.0 255.4,446.8 257.9,446.0 259.6,440.1 261.2,451.0 262.9,440.1 264.6,446.0 267.1,436.8 269.6,433.4 271.3,428.4 273.0,405.5 274.7,393.8 276.8,391.2 278.9,381.2 280.5,388.7 282.2,393.8 283.9,387.0 285.6,384.5 287.2,383.7 288.5,385.4 289.8,387.0 291.4,393.8 292.5,415.0 295.0,426.7 296.3,429.5 297.6,432.6 299.2,431.7 300.9,445.2 302.6,446.0 304.3,450.2 306.8,453.6 309.3,456.1 311.0,455.2 312.7,451.9 314.3,452.7 316.0,451.0 317.7,451.9 319.4,446.8 321.0,445.2 322.7,430.1 324.4,407.2 326.1,393.8 327.8,380.3 329.4,379.5 331.9,377.0 333.2,375.0 334.5,373.6 336.6,370.3 338.3,375.3 340.0,374.5 341.7,371.9 342.9,393.8 344.5,413.9 346.2,427.3 347.9,440.1 349.6,451.0 351.2,455.2 352.9,457.8 353.8,456.1 355.4,463.6 356.7,466.6 358.0,468.7 360.5,473.7 362.1,479.6 364.7,475.4 367.2,469.5 368.9,468.7 370.5,472.0 372.8,469.6 374.2,465.9 375.6,461.2 377.0,450.0 377.7,444.4 379.8,443.0 381.2,440.2 383.3,437.4 384.7,438.8 386.5,426.2 388.2,427.6 389.6,436.0 391.3,437.4 392.3,339.8 393.6,400.0 394.9,424.8 396.6,437.4 398.7,446.5 400.8,443.0 402.5,439.5 404.3,457.0 406.4,455.6 408.5,456.3 410.6,465.4 412.0,462.6 414.1,466.8 416.2,468.2 418.3,466.8 420.4,462.6 422.5,464.0 424.6,460.5 426.7,459.8 428.8,460.5 430.9,456.3 432.3,454.2" fill="none" stroke="#7e7eac" stroke-width="1.15" stroke-linejoin="round" stroke-opacity="1.0"/>
</g>
<defs><clipPath id="cy"><rect x="114.7" y="336.9" width="47.6" height="271.3"/></clipPath><clipPath id="cr"><rect x="162.3" y="336.9" width="47.9" height="271.3"/></clipPath><clipPath id="cb"><rect x="210.2" y="336.9" width="47.6" height="271.3"/></clipPath></defs>
<rect x="114.7" y="336.9" width="47.6" height="271.3" fill="#fcf8c9"/>
<g clip-path="url(#cy)"><g filter="url(#soft)">
<polyline points="58.4,564.0 60.0,564.7 61.7,564.9 63.4,564.4 65.1,563.2 66.8,564.0 68.5,564.9 70.2,563.8 71.8,563.2 73.5,561.9 75.2,561.5 76.8,562.9 78.5,564.0 80.2,563.6 81.9,563.2 83.6,564.3 85.2,564.9 87.8,561.5 88.9,556.5 90.6,569.1 92.8,564.9 94.4,564.3 96.1,564.0 97.8,565.0 99.5,565.4 101.2,564.7 102.9,564.4 104.6,565.0 106.2,564.9 107.9,564.7 109.6,564.0 111.2,564.4 112.9,564.9 114.6,565.3 116.3,565.7 118.8,561.5 121.3,564.9 123.0,564.2 124.7,563.2 127.2,565.7 129.7,560.7 132.2,554.0 133.9,560.7 135.6,556.5 138.1,560.7 139.8,560.4 141.4,560.7 143.1,561.6 144.8,562.3 146.9,562.1 148.6,561.2 150.3,559.6 151.9,560.6 153.6,562.1 155.3,562.0 157.0,561.2 158.7,562.2 160.3,562.9 162.9,564.6 165.4,562.9 167.1,563.7 168.7,563.8 170.4,563.2 172.1,562.9 173.8,562.1 175.4,562.1 177.1,562.0 178.8,561.2 180.4,562.0 182.1,562.1 183.8,562.4 185.5,562.9 187.2,562.7 188.9,563.4 190.6,562.8 192.2,562.9 193.9,563.5 195.6,563.8 197.2,563.6 198.9,563.8 200.6,564.7 202.3,564.6 203.9,565.1 205.6,565.4 206.7,567.1 209.2,568.0 211.7,565.4 213.4,565.6 215.1,566.3 217.6,563.8 219.3,561.2 221.8,562.1 224.3,562.9 226.8,561.2 228.9,563.8 230.5,559.6 231.9,562.9 233.6,562.2 235.2,561.2 236.9,561.9 238.6,562.9 240.2,562.9 241.9,562.1 243.6,563.4 245.3,563.8 247.0,563.4 248.7,562.9 250.3,563.5 252.0,563.8 253.7,564.4 255.4,564.6 257.9,562.9 260.4,566.3 262.1,565.8 263.8,564.6 265.5,564.2 267.1,562.9 269.6,564.6 271.3,562.4 273.0,561.2 274.6,561.9 276.3,562.9 277.7,562.7 279.1,562.2 280.5,562.1 282.2,563.0 283.9,563.8 285.5,562.5 287.2,562.1 288.9,561.2 290.6,559.6 292.5,562.1 295.0,561.2 296.7,562.5 298.4,563.8 300.0,563.8 301.7,564.6 303.4,564.8 305.1,564.6 306.8,565.3 308.5,566.3 311.0,565.4 312.6,564.3 314.3,563.8 316.0,563.3 317.7,562.9 319.4,562.5 321.0,562.9 322.3,561.0 323.6,559.6 325.2,560.4 326.9,560.4 328.6,559.7 330.3,558.7 332.8,557.9 335.3,559.6 337.8,558.7 340.3,559.6 342.9,560.4 345.4,562.1 347.0,562.9 348.7,564.6 350.4,564.9 352.1,564.6 353.8,563.7 355.4,563.8 357.1,564.0 358.8,564.6 360.5,565.4 362.1,565.4 363.8,565.1 365.5,564.6 367.2,565.3 368.9,566.3 370.5,565.7 372.2,565.4 373.9,565.3 375.6,565.5 377.0,564.7 378.4,564.7 379.8,564.9 381.2,564.1 382.6,563.8 384.0,564.4 385.4,564.5 386.8,564.7 388.2,564.1 389.6,563.0 391.7,560.2 393.1,562.3 395.2,563.7 397.3,563.0 399.4,562.3 401.5,566.5 403.6,565.1 405.0,563.9 406.4,563.0 407.8,564.2 409.2,564.4 410.6,564.5 412.0,565.1 413.4,565.2 414.8,564.4 416.9,563.0 419.0,566.5 421.0,565.1 423.1,564.4 425.2,567.9 427.3,565.8 429.4,565.1 431.5,564.4" fill="none" stroke="#7e8486" stroke-width="1.15" stroke-linejoin="round" stroke-opacity="1.0"/>
<polyline points="58.4,543.9 60.9,540.5 63.4,543.9 65.1,542.0 66.8,540.5 69.3,542.2 71.8,541.4 74.3,539.7 76.8,542.2 78.5,541.5 80.2,541.4 81.9,541.1 83.6,540.5 86.1,539.7 88.6,536.3 90.3,544.7 91.9,538.9 94.5,542.2 96.2,543.0 97.8,544.7 99.2,545.0 100.6,545.2 102.0,545.6 103.7,544.3 105.4,543.9 107.1,542.2 108.7,540.5 111.2,543.9 112.9,543.8 114.6,544.7 117.1,544.7 118.6,542.0 120.1,539.4 121.8,537.3 123.4,536.1 125.1,534.0 126.8,532.7 129.3,530.2 131.0,528.4 132.7,526.8 135.2,529.4 137.7,531.9 140.2,536.1 142.7,534.4 144.4,536.4 146.1,537.8 148.6,539.4 151.1,541.9 152.8,538.6 155.3,540.3 157.0,539.5 158.7,539.4 160.3,539.6 162.0,540.3 163.7,541.2 165.4,541.9 167.1,541.5 168.7,540.3 170.4,539.1 172.1,537.8 173.8,536.4 175.4,535.2 177.1,536.5 178.8,536.9 180.4,535.6 182.1,535.2 183.8,536.9 185.5,537.8 187.2,536.7 188.9,536.1 190.6,536.6 192.2,537.8 193.9,538.2 195.6,539.4 197.2,539.7 198.9,540.3 200.6,542.3 202.3,543.6 203.9,544.1 205.6,545.3 206.7,547.0 209.2,546.1 211.7,545.3 213.0,546.6 214.3,547.8 216.8,543.6 219.3,541.9 221.8,540.3 223.5,539.2 225.2,537.8 227.7,536.1 230.2,535.2 232.7,534.4 235.2,532.7 236.9,535.2 238.9,533.6 241.1,537.8 243.6,540.3 246.1,541.9 248.7,541.1 251.2,544.5 253.7,547.0 256.2,545.3 257.9,542.8 260.4,545.3 262.1,545.2 263.8,545.3 265.5,544.5 267.1,543.6 268.8,541.5 270.5,540.3 272.1,536.9 273.8,534.4 275.5,533.7 277.2,533.6 278.9,533.3 280.5,532.7 281.8,533.5 283.1,534.4 284.7,530.2 287.2,533.6 288.6,533.0 290.0,532.7 292.5,536.1 295.0,540.3 296.7,542.0 298.4,543.6 300.0,544.8 301.7,546.1 303.4,546.7 305.1,547.8 306.8,547.7 308.5,547.0 311.0,548.7 313.5,545.3 316.0,547.0 317.7,544.5 320.2,547.0 322.7,540.3 325.2,538.6 326.5,537.1 327.8,535.2 330.3,528.5 331.9,531.9 333.3,535.2 334.5,530.2 337.0,531.9 339.5,533.6 342.0,536.1 344.5,540.3 347.0,539.4 348.3,542.1 349.6,545.3 352.1,547.8 353.8,548.7 355.4,549.5 357.1,549.9 358.8,550.3 361.3,551.2 363.8,553.7 366.3,552.0 368.9,550.3 370.0,549.6 371.4,548.9 372.8,547.5 374.2,546.7 375.6,545.4 377.0,544.1 378.4,543.3 379.8,544.5 381.2,544.7 383.3,541.9 385.4,540.5 386.8,540.5 388.2,541.2 389.6,541.8 391.0,542.6 392.4,541.8 393.8,540.5 395.2,541.2 396.6,542.6 398.0,543.3 399.4,544.0 401.5,546.8 403.6,544.0 405.7,546.1 407.8,547.5 409.9,546.1 412.0,548.2 413.4,547.4 414.8,547.5 416.2,548.7 417.6,549.6 419.0,549.2 420.4,548.2 421.8,549.3 423.2,550.3 424.6,549.6 426.0,548.2 427.4,547.9 428.8,548.0 430.2,548.3 431.6,548.2" fill="none" stroke="#84a976" stroke-width="1.15" stroke-linejoin="round" stroke-opacity="1.0"/>
<polyline points="58.4,508.7 60.0,508.0 61.7,507.8 64.3,507.0 65.9,504.5 67.1,500.3 68.5,502.8 70.2,502.0 71.8,500.3 73.5,499.7 75.2,499.9 76.8,500.3 78.5,500.3 81.0,501.9 83.6,501.1 86.1,504.5 87.8,500.3 89.4,496.9 91.9,501.9 94.5,504.5 97.0,503.6 99.5,504.5 102.0,508.7 104.5,507.8 107.0,505.3 109.6,507.8 112.1,506.1 114.6,509.5 117.1,505.3 118.4,502.2 120.1,498.6 121.7,495.5 124.3,490.5 126.8,487.1 128.4,485.9 130.1,483.8 132.7,478.7 135.2,473.7 136.8,468.7 138.9,480.4 140.4,484.3 141.9,488.8 143.6,492.7 145.2,496.3 146.9,497.1 148.6,498.0 151.1,499.7 153.6,500.5 155.6,498.0 157.8,502.2 160.3,500.5 162.3,505.6 163.9,502.2 165.4,498.9 167.9,495.5 170.4,497.2 172.9,496.3 175.4,492.1 177.1,490.8 178.8,489.6 181.3,491.3 183.8,490.5 185.5,492.7 187.2,495.5 188.8,497.5 190.5,498.9 192.2,500.1 193.9,502.2 195.6,503.6 197.2,505.6 198.6,507.9 200.0,511.0 201.4,514.0 203.4,515.6 205.1,516.0 206.7,516.5 209.2,518.2 211.7,515.6 213.4,514.4 215.1,512.3 217.6,508.9 220.1,505.6 222.7,505.6 225.2,498.9 227.7,490.5 230.2,484.6 232.7,483.8 235.2,486.3 236.5,487.0 237.8,488.0 240.3,487.1 241.9,493.8 243.6,500.5 245.3,507.2 247.8,505.6 250.3,510.6 252.9,512.3 255.4,511.4 257.9,510.6 260.4,514.8 262.9,511.4 265.4,512.3 266.7,509.0 268.0,506.4 270.5,508.9 273.0,498.9 275.5,490.5 278.0,488.0 280.5,488.8 281.8,488.2 283.1,488.0 285.6,487.1 288.1,486.3 290.6,488.8 291.7,497.2 294.2,503.9 296.7,508.9 299.2,510.6 301.7,512.3 303.0,513.2 304.3,513.1 306.8,514.8 309.3,515.6 311.0,518.2 313.5,515.6 316.0,516.5 318.5,514.8 321.0,515.6 322.7,507.2 325.2,497.2 326.5,491.7 327.8,487.1 329.4,481.2 331.1,482.9 333.6,480.4 336.1,479.6 338.7,481.2 341.2,485.4 342.9,492.1 344.5,502.2 346.2,507.2 348.7,510.6 351.2,515.6 352.5,518.3 353.8,520.7 356.3,522.3 358.0,524.9 359.6,527.4 361.3,524.9 363.8,527.4 366.3,525.7 368.9,529.9 370.0,525.8 371.4,522.9 372.8,520.2 374.2,518.3 375.6,516.0 377.0,513.7 378.4,511.8 380.5,507.6 382.6,504.8 384.0,501.3 386.1,502.7 388.2,502.0 390.3,506.2 392.1,497.8 393.8,495.7 395.2,502.0 396.6,509.0 398.0,512.0 399.4,514.6 400.8,514.9 402.2,515.3 404.3,520.2 406.4,517.4 408.5,515.3 409.9,520.2 412.0,519.5 414.1,521.6 416.2,524.4 418.3,520.2 420.4,523.7 422.5,525.8 423.9,527.2 426.0,523.0 428.1,521.6 430.2,520.9 432.3,522.3" fill="none" stroke="#c0b76b" stroke-width="1.15" stroke-linejoin="round" stroke-opacity="1.0"/>
<polyline points="59.2,477.4 60.9,472.3 63.4,476.5 65.1,472.3 66.8,468.2 68.5,470.7 70.1,476.5 71.4,475.6 72.7,474.9 75.2,475.7 77.7,468.2 79.3,468.6 81.0,469.8 82.7,470.6 84.4,470.7 86.1,469.4 87.8,469.0 89.8,457.2 91.9,469.0 93.6,476.5 96.1,473.2 97.4,471.1 98.7,469.0 101.2,474.0 103.7,479.1 105.4,474.0 107.9,478.2 110.4,474.9 112.1,475.3 113.8,474.9 115.2,472.2 116.7,470.3 119.2,472.9 120.9,465.3 123.4,458.6 125.9,451.9 127.6,446.8 130.1,448.5 131.8,435.1 133.5,431.7 135.2,438.5 137.2,421.7 138.9,438.5 141.0,441.8 143.6,450.2 146.1,456.9 148.6,464.5 151.1,465.3 153.6,467.0 155.6,461.1 157.8,467.0 160.3,467.8 162.3,470.3 164.5,465.3 166.2,462.8 167.9,467.0 169.6,465.3 172.1,468.7 174.6,461.9 176.8,451.9 178.5,448.5 180.1,438.5 181.8,451.9 183.8,455.2 185.5,457.8 187.2,460.3 188.8,462.9 190.5,465.3 192.2,468.2 193.9,472.0 196.4,470.3 198.9,480.4 200.5,486.0 201.9,488.9 203.4,492.1 205.1,493.2 206.7,493.8 208.4,492.5 210.1,491.3 211.7,493.8 213.4,487.1 215.1,484.8 216.8,482.1 219.3,478.7 221.8,472.0 224.3,465.3 226.8,456.9 229.4,448.5 231.9,451.0 234.4,449.4 236.9,450.2 238.9,457.8 241.1,444.3 242.8,460.3 244.5,468.7 247.0,477.0 249.0,474.5 250.3,478.7 252.9,483.8 255.4,485.4 257.9,482.9 260.4,480.4 262.9,482.9 265.4,484.6 266.7,481.3 268.0,478.7 270.5,475.4 272.1,477.9 273.8,463.6 276.3,456.9 278.9,450.2 280.5,449.4 282.2,456.9 283.9,453.6 286.4,454.4 288.9,451.0 290.3,448.0 291.7,453.6 293.4,463.6 295.9,472.0 298.4,477.0 300.9,482.1 303.4,484.6 305.9,485.4 307.2,486.8 308.5,488.8 311.0,487.1 313.5,493.8 316.0,485.4 317.7,488.8 319.4,482.1 321.0,488.8 322.7,475.4 325.2,456.9 326.5,448.1 327.8,440.1 329.8,430.1 331.6,440.1 333.3,445.2 335.0,448.5 336.6,444.3 338.7,449.4 340.3,445.2 341.7,441.0 343.4,462.0 345.0,478.7 346.7,469.5 348.4,478.7 350.4,490.5 352.9,493.8 354.6,498.9 357.1,497.2 359.6,502.2 362.1,504.7 364.7,507.2 366.8,502.2 368.9,507.2 370.0,502.0 371.4,499.9 372.8,497.8 374.2,495.4 375.6,492.2 377.0,489.4 378.7,495.7 380.5,488.0 382.6,485.9 384.0,483.1 385.7,476.8 387.5,480.3 389.6,481.0 391.9,414.0 393.9,460.0 395.2,474.0 397.3,485.2 399.4,488.7 401.9,485.2 403.6,493.6 405.3,497.8 407.1,502.0 408.9,495.0 410.6,499.2 412.7,498.5 414.5,500.6 416.2,504.8 418.3,500.6 420.4,496.4 422.5,499.2 424.6,503.4 426.0,505.6 427.4,507.6 429.5,504.8 431.6,501.3 433.0,499.9" fill="none" stroke="#a87c7e" stroke-width="1.15" stroke-linejoin="round" stroke-opacity="1.0"/>
<polyline points="59.2,432.1 61.7,432.4 64.3,437.1 65.9,425.4 67.6,411.1 69.3,415.3 71.0,422.9 72.3,415.3 73.5,420.3 75.2,417.0 76.8,414.5 78.1,414.6 79.4,414.5 81.9,415.3 84.4,412.8 86.1,408.6 87.8,407.8 89.9,387.6 91.9,403.6 93.6,422.0 96.1,423.7 98.3,406.1 100.0,425.4 101.2,432.9 103.4,429.6 105.4,433.8 107.9,438.8 110.1,442.1 112.1,427.9 113.4,440.5 114.6,433.8 116.7,439.1 119.2,418.9 120.9,410.5 122.6,397.1 124.3,382.0 125.9,373.6 127.6,372.8 129.3,363.6 131.0,356.8 132.7,339.2 134.3,348.5 136.0,355.2 137.7,350.1 138.5,363.6 140.2,383.7 142.7,393.8 145.2,405.5 146.5,408.8 147.8,412.2 150.3,420.6 152.8,426.5 154.5,408.0 156.1,425.6 158.7,426.5 161.2,425.6 162.9,434.0 164.5,429.8 166.2,432.3 167.9,424.0 170.4,413.9 172.1,412.2 174.6,402.1 177.1,392.1 178.8,389.2 180.5,386.2 182.2,388.9 183.8,392.1 185.5,394.9 187.2,397.1 189.7,403.8 192.2,412.2 194.7,421.4 197.2,421.4 198.5,428.0 199.8,434.0 202.3,444.1 203.4,448.5 205.1,452.0 206.7,455.2 209.2,452.7 211.7,451.0 213.0,448.6 214.3,446.8 216.8,440.1 219.3,430.1 221.0,420.0 222.7,415.6 225.2,412.2 226.8,388.7 228.5,377.8 230.2,378.7 232.7,377.0 234.4,377.0 236.1,383.7 238.6,388.7 240.3,384.5 241.9,403.8 243.6,413.9 245.3,423.4 247.8,433.4 250.3,439.3 252.9,441.0 255.4,446.8 257.9,446.0 259.6,440.1 261.2,451.0 262.9,440.1 264.6,446.0 267.1,436.8 269.6,433.4 271.3,428.4 273.0,405.5 274.7,393.8 276.8,391.2 278.9,381.2 280.5,388.7 282.2,393.8 283.9,387.0 285.6,384.5 287.2,383.7 288.5,385.4 289.8,387.0 291.4,393.8 292.5,415.0 295.0,426.7 296.3,429.5 297.6,432.6 299.2,431.7 300.9,445.2 302.6,446.0 304.3,450.2 306.8,453.6 309.3,456.1 311.0,455.2 312.7,451.9 314.3,452.7 316.0,451.0 317.7,451.9 319.4,446.8 321.0,445.2 322.7,430.1 324.4,407.2 326.1,393.8 327.8,380.3 329.4,379.5 331.9,377.0 333.2,375.0 334.5,373.6 336.6,370.3 338.3,375.3 340.0,374.5 341.7,371.9 342.9,393.8 344.5,413.9 346.2,427.3 347.9,440.1 349.6,451.0 351.2,455.2 352.9,457.8 353.8,456.1 355.4,463.6 356.7,466.6 358.0,468.7 360.5,473.7 362.1,479.6 364.7,475.4 367.2,469.5 368.9,468.7 370.5,472.0 372.8,469.6 374.2,465.9 375.6,461.2 377.0,450.0 377.7,444.4 379.8,443.0 381.2,440.2 383.3,437.4 384.7,438.8 386.5,426.2 388.2,427.6 389.6,436.0 391.3,437.4 392.3,339.8 393.6,400.0 394.9,424.8 396.6,437.4 398.7,446.5 400.8,443.0 402.5,439.5 404.3,457.0 406.4,455.6 408.5,456.3 410.6,465.4 412.0,462.6 414.1,466.8 416.2,468.2 418.3,466.8 420.4,462.6 422.5,464.0 424.6,460.5 426.7,459.8 428.8,460.5 430.9,456.3 432.3,454.2" fill="none" stroke="#7d7b88" stroke-width="1.15" stroke-linejoin="round" stroke-opacity="1.0"/>
</g></g>
<rect x="162.3" y="336.9" width="47.9" height="271.3" fill="#f5c6c8"/>
<g clip-path="url(#cr)"><g filter="url(#soft)">
<polyline points="58.4,564.0 60.0,564.7 61.7,564.9 63.4,564.4 65.1,563.2 66.8,564.0 68.5,564.9 70.2,563.8 71.8,563.2 73.5,561.9 75.2,561.5 76.8,562.9 78.5,564.0 80.2,563.6 81.9,563.2 83.6,564.3 85.2,564.9 87.8,561.5 88.9,556.5 90.6,569.1 92.8,564.9 94.4,564.3 96.1,564.0 97.8,565.0 99.5,565.4 101.2,564.7 102.9,564.4 104.6,565.0 106.2,564.9 107.9,564.7 109.6,564.0 111.2,564.4 112.9,564.9 114.6,565.3 116.3,565.7 118.8,561.5 121.3,564.9 123.0,564.2 124.7,563.2 127.2,565.7 129.7,560.7 132.2,554.0 133.9,560.7 135.6,556.5 138.1,560.7 139.8,560.4 141.4,560.7 143.1,561.6 144.8,562.3 146.9,562.1 148.6,561.2 150.3,559.6 151.9,560.6 153.6,562.1 155.3,562.0 157.0,561.2 158.7,562.2 160.3,562.9 162.9,564.6 165.4,562.9 167.1,563.7 168.7,563.8 170.4,563.2 172.1,562.9 173.8,562.1 175.4,562.1 177.1,562.0 178.8,561.2 180.4,562.0 182.1,562.1 183.8,562.4 185.5,562.9 187.2,562.7 188.9,563.4 190.6,562.8 192.2,562.9 193.9,563.5 195.6,563.8 197.2,563.6 198.9,563.8 200.6,564.7 202.3,564.6 203.9,565.1 205.6,565.4 206.7,567.1 209.2,568.0 211.7,565.4 213.4,565.6 215.1,566.3 217.6,563.8 219.3,561.2 221.8,562.1 224.3,562.9 226.8,561.2 228.9,563.8 230.5,559.6 231.9,562.9 233.6,562.2 235.2,561.2 236.9,561.9 238.6,562.9 240.2,562.9 241.9,562.1 243.6,563.4 245.3,563.8 247.0,563.4 248.7,562.9 250.3,563.5 252.0,563.8 253.7,564.4 255.4,564.6 257.9,562.9 260.4,566.3 262.1,565.8 263.8,564.6 265.5,564.2 267.1,562.9 269.6,564.6 271.3,562.4 273.0,561.2 274.6,561.9 276.3,562.9 277.7,562.7 279.1,562.2 280.5,562.1 282.2,563.0 283.9,563.8 285.5,562.5 287.2,562.1 288.9,561.2 290.6,559.6 292.5,562.1 295.0,561.2 296.7,562.5 298.4,563.8 300.0,563.8 301.7,564.6 303.4,564.8 305.1,564.6 306.8,565.3 308.5,566.3 311.0,565.4 312.6,564.3 314.3,563.8 316.0,563.3 317.7,562.9 319.4,562.5 321.0,562.9 322.3,561.0 323.6,559.6 325.2,560.4 326.9,560.4 328.6,559.7 330.3,558.7 332.8,557.9 335.3,559.6 337.8,558.7 340.3,559.6 342.9,560.4 345.4,562.1 347.0,562.9 348.7,564.6 350.4,564.9 352.1,564.6 353.8,563.7 355.4,563.8 357.1,564.0 358.8,564.6 360.5,565.4 362.1,565.4 363.8,565.1 365.5,564.6 367.2,565.3 368.9,566.3 370.5,565.7 372.2,565.4 373.9,565.3 375.6,565.5 377.0,564.7 378.4,564.7 379.8,564.9 381.2,564.1 382.6,563.8 384.0,564.4 385.4,564.5 386.8,564.7 388.2,564.1 389.6,563.0 391.7,560.2 393.1,562.3 395.2,563.7 397.3,563.0 399.4,562.3 401.5,566.5 403.6,565.1 405.0,563.9 406.4,563.0 407.8,564.2 409.2,564.4 410.6,564.5 412.0,565.1 413.4,565.2 414.8,564.4 416.9,563.0 419.0,566.5 421.0,565.1 423.1,564.4 425.2,567.9 427.3,565.8 429.4,565.1 431.5,564.4" fill="none" stroke="#7b6a85" stroke-width="1.15" stroke-linejoin="round" stroke-opacity="1.0"/>
<polyline points="58.4,543.9 60.9,540.5 63.4,543.9 65.1,542.0 66.8,540.5 69.3,542.2 71.8,541.4 74.3,539.7 76.8,542.2 78.5,541.5 80.2,541.4 81.9,541.1 83.6,540.5 86.1,539.7 88.6,536.3 90.3,544.7 91.9,538.9 94.5,542.2 96.2,543.0 97.8,544.7 99.2,545.0 100.6,545.2 102.0,545.6 103.7,544.3 105.4,543.9 107.1,542.2 108.7,540.5 111.2,543.9 112.9,543.8 114.6,544.7 117.1,544.7 118.6,542.0 120.1,539.4 121.8,537.3 123.4,536.1 125.1,534.0 126.8,532.7 129.3,530.2 131.0,528.4 132.7,526.8 135.2,529.4 137.7,531.9 140.2,536.1 142.7,534.4 144.4,536.4 146.1,537.8 148.6,539.4 151.1,541.9 152.8,538.6 155.3,540.3 157.0,539.5 158.7,539.4 160.3,539.6 162.0,540.3 163.7,541.2 165.4,541.9 167.1,541.5 168.7,540.3 170.4,539.1 172.1,537.8 173.8,536.4 175.4,535.2 177.1,536.5 178.8,536.9 180.4,535.6 182.1,535.2 183.8,536.9 185.5,537.8 187.2,536.7 188.9,536.1 190.6,536.6 192.2,537.8 193.9,538.2 195.6,539.4 197.2,539.7 198.9,540.3 200.6,542.3 202.3,543.6 203.9,544.1 205.6,545.3 206.7,547.0 209.2,546.1 211.7,545.3 213.0,546.6 214.3,547.8 216.8,543.6 219.3,541.9 221.8,540.3 223.5,539.2 225.2,537.8 227.7,536.1 230.2,535.2 232.7,534.4 235.2,532.7 236.9,535.2 238.9,533.6 241.1,537.8 243.6,540.3 246.1,541.9 248.7,541.1 251.2,544.5 253.7,547.0 256.2,545.3 257.9,542.8 260.4,545.3 262.1,545.2 263.8,545.3 265.5,544.5 267.1,543.6 268.8,541.5 270.5,540.3 272.1,536.9 273.8,534.4 275.5,533.7 277.2,533.6 278.9,533.3 280.5,532.7 281.8,533.5 283.1,534.4 284.7,530.2 287.2,533.6 288.6,533.0 290.0,532.7 292.5,536.1 295.0,540.3 296.7,542.0 298.4,543.6 300.0,544.8 301.7,546.1 303.4,546.7 305.1,547.8 306.8,547.7 308.5,547.0 311.0,548.7 313.5,545.3 316.0,547.0 317.7,544.5 320.2,547.0 322.7,540.3 325.2,538.6 326.5,537.1 327.8,535.2 330.3,528.5 331.9,531.9 333.3,535.2 334.5,530.2 337.0,531.9 339.5,533.6 342.0,536.1 344.5,540.3 347.0,539.4 348.3,542.1 349.6,545.3 352.1,547.8 353.8,548.7 355.4,549.5 357.1,549.9 358.8,550.3 361.3,551.2 363.8,553.7 366.3,552.0 368.9,550.3 370.0,549.6 371.4,548.9 372.8,547.5 374.2,546.7 375.6,545.4 377.0,544.1 378.4,543.3 379.8,544.5 381.2,544.7 383.3,541.9 385.4,540.5 386.8,540.5 388.2,541.2 389.6,541.8 391.0,542.6 392.4,541.8 393.8,540.5 395.2,541.2 396.6,542.6 398.0,543.3 399.4,544.0 401.5,546.8 403.6,544.0 405.7,546.1 407.8,547.5 409.9,546.1 412.0,548.2 413.4,547.4 414.8,547.5 416.2,548.7 417.6,549.6 419.0,549.2 420.4,548.2 421.8,549.3 423.2,550.3 424.6,549.6 426.0,548.2 427.4,547.9 428.8,548.0 430.2,548.3 431.6,548.2" fill="none" stroke="#818776" stroke-width="1.15" stroke-linejoin="round" stroke-opacity="1.0"/>
<polyline points="58.4,508.7 60.0,508.0 61.7,507.8 64.3,507.0 65.9,504.5 67.1,500.3 68.5,502.8 70.2,502.0 71.8,500.3 73.5,499.7 75.2,499.9 76.8,500.3 78.5,500.3 81.0,501.9 83.6,501.1 86.1,504.5 87.8,500.3 89.4,496.9 91.9,501.9 94.5,504.5 97.0,503.6 99.5,504.5 102.0,508.7 104.5,507.8 107.0,505.3 109.6,507.8 112.1,506.1 114.6,509.5 117.1,505.3 118.4,502.2 120.1,498.6 121.7,495.5 124.3,490.5 126.8,487.1 128.4,485.9 130.1,483.8 132.7,478.7 135.2,473.7 136.8,468.7 138.9,480.4 140.4,484.3 141.9,488.8 143.6,492.7 145.2,496.3 146.9,497.1 148.6,498.0 151.1,499.7 153.6,500.5 155.6,498.0 157.8,502.2 160.3,500.5 162.3,505.6 163.9,502.2 165.4,498.9 167.9,495.5 170.4,497.2 172.9,496.3 175.4,492.1 177.1,490.8 178.8,489.6 181.3,491.3 183.8,490.5 185.5,492.7 187.2,495.5 188.8,497.5 190.5,498.9 192.2,500.1 193.9,502.2 195.6,503.6 197.2,505.6 198.6,507.9 200.0,511.0 201.4,514.0 203.4,515.6 205.1,516.0 206.7,516.5 209.2,518.2 211.7,515.6 213.4,514.4 215.1,512.3 217.6,508.9 220.1,505.6 222.7,505.6 225.2,498.9 227.7,490.5 230.2,484.6 232.7,483.8 235.2,486.3 236.5,487.0 237.8,488.0 240.3,487.1 241.9,493.8 243.6,500.5 245.3,507.2 247.8,505.6 250.3,510.6 252.9,512.3 255.4,511.4 257.9,510.6 260.4,514.8 262.9,511.4 265.4,512.3 266.7,509.0 268.0,506.4 270.5,508.9 273.0,498.9 275.5,490.5 278.0,488.0 280.5,488.8 281.8,488.2 283.1,488.0 285.6,487.1 288.1,486.3 290.6,488.8 291.7,497.2 294.2,503.9 296.7,508.9 299.2,510.6 301.7,512.3 303.0,513.2 304.3,513.1 306.8,514.8 309.3,515.6 311.0,518.2 313.5,515.6 316.0,516.5 318.5,514.8 321.0,515.6 322.7,507.2 325.2,497.2 326.5,491.7 327.8,487.1 329.4,481.2 331.1,482.9 333.6,480.4 336.1,479.6 338.7,481.2 341.2,485.4 342.9,492.1 344.5,502.2 346.2,507.2 348.7,510.6 351.2,515.6 352.5,518.3 353.8,520.7 356.3,522.3 358.0,524.9 359.6,527.4 361.3,524.9 363.8,527.4 366.3,525.7 368.9,529.9 370.0,525.8 371.4,522.9 372.8,520.2 374.2,518.3 375.6,516.0 377.0,513.7 378.4,511.8 380.5,507.6 382.6,504.8 384.0,501.3 386.1,502.7 388.2,502.0 390.3,506.2 392.1,497.8 393.8,495.7 395.2,502.0 396.6,509.0 398.0,512.0 399.4,514.6 400.8,514.9 402.2,515.3 404.3,520.2 406.4,517.4 408.5,515.3 409.9,520.2 412.0,519.5 414.1,521.6 416.2,524.4 418.3,520.2 420.4,523.7 422.5,525.8 423.9,527.2 426.0,523.0 428.1,521.6 430.2,520.9 432.3,522.3" fill="none" stroke="#ba926b" stroke-width="1.15" stroke-linejoin="round" stroke-opacity="1.0"/>
<polyline points="59.2,477.4 60.9,472.3 63.4,476.5 65.1,472.3 66.8,468.2 68.5,470.7 70.1,476.5 71.4,475.6 72.7,474.9 75.2,475.7 77.7,468.2 79.3,468.6 81.0,469.8 82.7,470.6 84.4,470.7 86.1,469.4 87.8,469.0 89.8,457.2 91.9,469.0 93.6,476.5 96.1,473.2 97.4,471.1 98.7,469.0 101.2,474.0 103.7,479.1 105.4,474.0 107.9,478.2 110.4,474.9 112.1,475.3 113.8,474.9 115.2,472.2 116.7,470.3 119.2,472.9 120.9,465.3 123.4,458.6 125.9,451.9 127.6,446.8 130.1,448.5 131.8,435.1 133.5,431.7 135.2,438.5 137.2,421.7 138.9,438.5 141.0,441.8 143.6,450.2 146.1,456.9 148.6,464.5 151.1,465.3 153.6,467.0 155.6,461.1 157.8,467.0 160.3,467.8 162.3,470.3 164.5,465.3 166.2,462.8 167.9,467.0 169.6,465.3 172.1,468.7 174.6,461.9 176.8,451.9 178.5,448.5 180.1,438.5 181.8,451.9 183.8,455.2 185.5,457.8 187.2,460.3 188.8,462.9 190.5,465.3 192.2,468.2 193.9,472.0 196.4,470.3 198.9,480.4 200.5,486.0 201.9,488.9 203.4,492.1 205.1,493.2 206.7,493.8 208.4,492.5 210.1,491.3 211.7,493.8 213.4,487.1 215.1,484.8 216.8,482.1 219.3,478.7 221.8,472.0 224.3,465.3 226.8,456.9 229.4,448.5 231.9,451.0 234.4,449.4 236.9,450.2 238.9,457.8 241.1,444.3 242.8,460.3 244.5,468.7 247.0,477.0 249.0,474.5 250.3,478.7 252.9,483.8 255.4,485.4 257.9,482.9 260.4,480.4 262.9,482.9 265.4,484.6 266.7,481.3 268.0,478.7 270.5,475.4 272.1,477.9 273.8,463.6 276.3,456.9 278.9,450.2 280.5,449.4 282.2,456.9 283.9,453.6 286.4,454.4 288.9,451.0 290.3,448.0 291.7,453.6 293.4,463.6 295.9,472.0 298.4,477.0 300.9,482.1 303.4,484.6 305.9,485.4 307.2,486.8 308.5,488.8 311.0,487.1 313.5,493.8 316.0,485.4 317.7,488.8 319.4,482.1 321.0,488.8 322.7,475.4 325.2,456.9 326.5,448.1 327.8,440.1 329.8,430.1 331.6,440.1 333.3,445.2 335.0,448.5 336.6,444.3 338.7,449.4 340.3,445.2 341.7,441.0 343.4,462.0 345.0,478.7 346.7,469.5 348.4,478.7 350.4,490.5 352.9,493.8 354.6,498.9 357.1,497.2 359.6,502.2 362.1,504.7 364.7,507.2 366.8,502.2 368.9,507.2 370.0,502.0 371.4,499.9 372.8,497.8 374.2,495.4 375.6,492.2 377.0,489.4 378.7,495.7 380.5,488.0 382.6,485.9 384.0,483.1 385.7,476.8 387.5,480.3 389.6,481.0 391.9,414.0 393.9,460.0 395.2,474.0 397.3,485.2 399.4,488.7 401.9,485.2 403.6,493.6 405.3,497.8 407.1,502.0 408.9,495.0 410.6,499.2 412.7,498.5 414.5,500.6 416.2,504.8 418.3,500.6 420.4,496.4 422.5,499.2 424.6,503.4 426.0,505.6 427.4,507.6 429.5,504.8 431.6,501.3 433.0,499.9" fill="none" stroke="#a3637d" stroke-width="1.15" stroke-linejoin="round" stroke-opacity="1.0"/>
<polyline points="59.2,432.1 61.7,432.4 64.3,437.1 65.9,425.4 67.6,411.1 69.3,415.3 71.0,422.9 72.3,415.3 73.5,420.3 75.2,417.0 76.8,414.5 78.1,414.6 79.4,414.5 81.9,415.3 84.4,412.8 86.1,408.6 87.8,407.8 89.9,387.6 91.9,403.6 93.6,422.0 96.1,423.7 98.3,406.1 100.0,425.4 101.2,432.9 103.4,429.6 105.4,433.8 107.9,438.8 110.1,442.1 112.1,427.9 113.4,440.5 114.6,433.8 116.7,439.1 119.2,418.9 120.9,410.5 122.6,397.1 124.3,382.0 125.9,373.6 127.6,372.8 129.3,363.6 131.0,356.8 132.7,339.2 134.3,348.5 136.0,355.2 137.7,350.1 138.5,363.6 140.2,383.7 142.7,393.8 145.2,405.5 146.5,408.8 147.8,412.2 150.3,420.6 152.8,426.5 154.5,408.0 156.1,425.6 158.7,426.5 161.2,425.6 162.9,434.0 164.5,429.8 166.2,432.3 167.9,424.0 170.4,413.9 172.1,412.2 174.6,402.1 177.1,392.1 178.8,389.2 180.5,386.2 182.2,388.9 183.8,392.1 185.5,394.9 187.2,397.1 189.7,403.8 192.2,412.2 194.7,421.4 197.2,421.4 198.5,428.0 199.8,434.0 202.3,444.1 203.4,448.5 205.1,452.0 206.7,455.2 209.2,452.7 211.7,451.0 213.0,448.6 214.3,446.8 216.8,440.1 219.3,430.1 221.0,420.0 222.7,415.6 225.2,412.2 226.8,388.7 228.5,377.8 230.2,378.7 232.7,377.0 234.4,377.0 236.1,383.7 238.6,388.7 240.3,384.5 241.9,403.8 243.6,413.9 245.3,423.4 247.8,433.4 250.3,439.3 252.9,441.0 255.4,446.8 257.9,446.0 259.6,440.1 261.2,451.0 262.9,440.1 264.6,446.0 267.1,436.8 269.6,433.4 271.3,428.4 273.0,405.5 274.7,393.8 276.8,391.2 278.9,381.2 280.5,388.7 282.2,393.8 283.9,387.0 285.6,384.5 287.2,383.7 288.5,385.4 289.8,387.0 291.4,393.8 292.5,415.0 295.0,426.7 296.3,429.5 297.6,432.6 299.2,431.7 300.9,445.2 302.6,446.0 304.3,450.2 306.8,453.6 309.3,456.1 311.0,455.2 312.7,451.9 314.3,452.7 316.0,451.0 317.7,451.9 319.4,446.8 321.0,445.2 322.7,430.1 324.4,407.2 326.1,393.8 327.8,380.3 329.4,379.5 331.9,377.0 333.2,375.0 334.5,373.6 336.6,370.3 338.3,375.3 340.0,374.5 341.7,371.9 342.9,393.8 344.5,413.9 346.2,427.3 347.9,440.1 349.6,451.0 351.2,455.2 352.9,457.8 353.8,456.1 355.4,463.6 356.7,466.6 358.0,468.7 360.5,473.7 362.1,479.6 364.7,475.4 367.2,469.5 368.9,468.7 370.5,472.0 372.8,469.6 374.2,465.9 375.6,461.2 377.0,450.0 377.7,444.4 379.8,443.0 381.2,440.2 383.3,437.4 384.7,438.8 386.5,426.2 388.2,427.6 389.6,436.0 391.3,437.4 392.3,339.8 393.6,400.0 394.9,424.8 396.6,437.4 398.7,446.5 400.8,443.0 402.5,439.5 404.3,457.0 406.4,455.6 408.5,456.3 410.6,465.4 412.0,462.6 414.1,466.8 416.2,468.2 418.3,466.8 420.4,462.6 422.5,464.0 424.6,460.5 426.7,459.8 428.8,460.5 430.9,456.3 432.3,454.2" fill="none" stroke="#796287" stroke-width="1.15" stroke-linejoin="round" stroke-opacity="1.0"/>
</g></g>
<rect x="210.2" y="336.9" width="47.6" height="271.3" fill="#cacae2"/>
<g clip-path="url(#cb)"><g filter="url(#soft)">
<polyline points="58.4,564.0 60.0,564.7 61.7,564.9 63.4,564.4 65.1,563.2 66.8,564.0 68.5,564.9 70.2,563.8 71.8,563.2 73.5,561.9 75.2,561.5 76.8,562.9 78.5,564.0 80.2,563.6 81.9,563.2 83.6,564.3 85.2,564.9 87.8,561.5 88.9,556.5 90.6,569.1 92.8,564.9 94.4,564.3 96.1,564.0 97.8,565.0 99.5,565.4 101.2,564.7 102.9,564.4 104.6,565.0 106.2,564.9 107.9,564.7 109.6,564.0 111.2,564.4 112.9,564.9 114.6,565.3 116.3,565.7 118.8,561.5 121.3,564.9 123.0,564.2 124.7,563.2 127.2,565.7 129.7,560.7 132.2,554.0 133.9,560.7 135.6,556.5 138.1,560.7 139.8,560.4 141.4,560.7 143.1,561.6 144.8,562.3 146.9,562.1 148.6,561.2 150.3,559.6 151.9,560.6 153.6,562.1 155.3,562.0 157.0,561.2 158.7,562.2 160.3,562.9 162.9,564.6 165.4,562.9 167.1,563.7 168.7,563.8 170.4,563.2 172.1,562.9 173.8,562.1 175.4,562.1 177.1,562.0 178.8,561.2 180.4,562.0 182.1,562.1 183.8,562.4 185.5,562.9 187.2,562.7 188.9,563.4 190.6,562.8 192.2,562.9 193.9,563.5 195.6,563.8 197.2,563.6 198.9,563.8 200.6,564.7 202.3,564.6 203.9,565.1 205.6,565.4 206.7,567.1 209.2,568.0 211.7,565.4 213.4,565.6 215.1,566.3 217.6,563.8 219.3,561.2 221.8,562.1 224.3,562.9 226.8,561.2 228.9,563.8 230.5,559.6 231.9,562.9 233.6,562.2 235.2,561.2 236.9,561.9 238.6,562.9 240.2,562.9 241.9,562.1 243.6,563.4 245.3,563.8 247.0,563.4 248.7,562.9 250.3,563.5 252.0,563.8 253.7,564.4 255.4,564.6 257.9,562.9 260.4,566.3 262.1,565.8 263.8,564.6 265.5,564.2 267.1,562.9 269.6,564.6 271.3,562.4 273.0,561.2 274.6,561.9 276.3,562.9 277.7,562.7 279.1,562.2 280.5,562.1 282.2,563.0 283.9,563.8 285.5,562.5 287.2,562.1 288.9,561.2 290.6,559.6 292.5,562.1 295.0,561.2 296.7,562.5 298.4,563.8 300.0,563.8 301.7,564.6 303.4,564.8 305.1,564.6 306.8,565.3 308.5,566.3 311.0,565.4 312.6,564.3 314.3,563.8 316.0,563.3 317.7,562.9 319.4,562.5 321.0,562.9 322.3,561.0 323.6,559.6 325.2,560.4 326.9,560.4 328.6,559.7 330.3,558.7 332.8,557.9 335.3,559.6 337.8,558.7 340.3,559.6 342.9,560.4 345.4,562.1 347.0,562.9 348.7,564.6 350.4,564.9 352.1,564.6 353.8,563.7 355.4,563.8 357.1,564.0 358.8,564.6 360.5,565.4 362.1,565.4 363.8,565.1 365.5,564.6 367.2,565.3 368.9,566.3 370.5,565.7 372.2,565.4 373.9,565.3 375.6,565.5 377.0,564.7 378.4,564.7 379.8,564.9 381.2,564.1 382.6,563.8 384.0,564.4 385.4,564.5 386.8,564.7 388.2,564.1 389.6,563.0 391.7,560.2 393.1,562.3 395.2,563.7 397.3,563.0 399.4,562.3 401.5,566.5 403.6,565.1 405.0,563.9 406.4,563.0 407.8,564.2 409.2,564.4 410.6,564.5 412.0,565.1 413.4,565.2 414.8,564.4 416.9,563.0 419.0,566.5 421.0,565.1 423.1,564.4 425.2,567.9 427.3,565.8 429.4,565.1 431.5,564.4" fill="none" stroke="#656c97" stroke-width="1.15" stroke-linejoin="round" stroke-opacity="1.0"/>
<polyline points="58.4,543.9 60.9,540.5 63.4,543.9 65.1,542.0 66.8,540.5 69.3,542.2 71.8,541.4 74.3,539.7 76.8,542.2 78.5,541.5 80.2,541.4 81.9,541.1 83.6,540.5 86.1,539.7 88.6,536.3 90.3,544.7 91.9,538.9 94.5,542.2 96.2,543.0 97.8,544.7 99.2,545.0 100.6,545.2 102.0,545.6 103.7,544.3 105.4,543.9 107.1,542.2 108.7,540.5 111.2,543.9 112.9,543.8 114.6,544.7 117.1,544.7 118.6,542.0 120.1,539.4 121.8,537.3 123.4,536.1 125.1,534.0 126.8,532.7 129.3,530.2 131.0,528.4 132.7,526.8 135.2,529.4 137.7,531.9 140.2,536.1 142.7,534.4 144.4,536.4 146.1,537.8 148.6,539.4 151.1,541.9 152.8,538.6 155.3,540.3 157.0,539.5 158.7,539.4 160.3,539.6 162.0,540.3 163.7,541.2 165.4,541.9 167.1,541.5 168.7,540.3 170.4,539.1 172.1,537.8 173.8,536.4 175.4,535.2 177.1,536.5 178.8,536.9 180.4,535.6 182.1,535.2 183.8,536.9 185.5,537.8 187.2,536.7 188.9,536.1 190.6,536.6 192.2,537.8 193.9,538.2 195.6,539.4 197.2,539.7 198.9,540.3 200.6,542.3 202.3,543.6 203.9,544.1 205.6,545.3 206.7,547.0 209.2,546.1 211.7,545.3 213.0,546.6 214.3,547.8 216.8,543.6 219.3,541.9 221.8,540.3 223.5,539.2 225.2,537.8 227.7,536.1 230.2,535.2 232.7,534.4 235.2,532.7 236.9,535.2 238.9,533.6 241.1,537.8 243.6,540.3 246.1,541.9 248.7,541.1 251.2,544.5 253.7,547.0 256.2,545.3 257.9,542.8 260.4,545.3 262.1,545.2 263.8,545.3 265.5,544.5 267.1,543.6 268.8,541.5 270.5,540.3 272.1,536.9 273.8,534.4 275.5,533.7 277.2,533.6 278.9,533.3 280.5,532.7 281.8,533.5 283.1,534.4 284.7,530.2 287.2,533.6 288.6,533.0 290.0,532.7 292.5,536.1 295.0,540.3 296.7,542.0 298.4,543.6 300.0,544.8 301.7,546.1 303.4,546.7 305.1,547.8 306.8,547.7 308.5,547.0 311.0,548.7 313.5,545.3 316.0,547.0 317.7,544.5 320.2,547.0 322.7,540.3 325.2,538.6 326.5,537.1 327.8,535.2 330.3,528.5 331.9,531.9 333.3,535.2 334.5,530.2 337.0,531.9 339.5,533.6 342.0,536.1 344.5,540.3 347.0,539.4 348.3,542.1 349.6,545.3 352.1,547.8 353.8,548.7 355.4,549.5 357.1,549.9 358.8,550.3 361.3,551.2 363.8,553.7 366.3,552.0 368.9,550.3 370.0,549.6 371.4,548.9 372.8,547.5 374.2,546.7 375.6,545.4 377.0,544.1 378.4,543.3 379.8,544.5 381.2,544.7 383.3,541.9 385.4,540.5 386.8,540.5 388.2,541.2 389.6,541.8 391.0,542.6 392.4,541.8 393.8,540.5 395.2,541.2 396.6,542.6 398.0,543.3 399.4,544.0 401.5,546.8 403.6,544.0 405.7,546.1 407.8,547.5 409.9,546.1 412.0,548.2 413.4,547.4 414.8,547.5 416.2,548.7 417.6,549.6 419.0,549.2 420.4,548.2 421.8,549.3 423.2,550.3 424.6,549.6 426.0,548.2 427.4,547.9 428.8,548.0 430.2,548.3 431.6,548.2" fill="none" stroke="#6a8a85" stroke-width="1.15" stroke-linejoin="round" stroke-opacity="1.0"/>
<polyline points="58.4,508.7 60.0,508.0 61.7,507.8 64.3,507.0 65.9,504.5 67.1,500.3 68.5,502.8 70.2,502.0 71.8,500.3 73.5,499.7 75.2,499.9 76.8,500.3 78.5,500.3 81.0,501.9 83.6,501.1 86.1,504.5 87.8,500.3 89.4,496.9 91.9,501.9 94.5,504.5 97.0,503.6 99.5,504.5 102.0,508.7 104.5,507.8 107.0,505.3 109.6,507.8 112.1,506.1 114.6,509.5 117.1,505.3 118.4,502.2 120.1,498.6 121.7,495.5 124.3,490.5 126.8,487.1 128.4,485.9 130.1,483.8 132.7,478.7 135.2,473.7 136.8,468.7 138.9,480.4 140.4,484.3 141.9,488.8 143.6,492.7 145.2,496.3 146.9,497.1 148.6,498.0 151.1,499.7 153.6,500.5 155.6,498.0 157.8,502.2 160.3,500.5 162.3,505.6 163.9,502.2 165.4,498.9 167.9,495.5 170.4,497.2 172.9,496.3 175.4,492.1 177.1,490.8 178.8,489.6 181.3,491.3 183.8,490.5 185.5,492.7 187.2,495.5 188.8,497.5 190.5,498.9 192.2,500.1 193.9,502.2 195.6,503.6 197.2,505.6 198.6,507.9 200.0,511.0 201.4,514.0 203.4,515.6 205.1,516.0 206.7,516.5 209.2,518.2 211.7,515.6 213.4,514.4 215.1,512.3 217.6,508.9 220.1,505.6 222.7,505.6 225.2,498.9 227.7,490.5 230.2,484.6 232.7,483.8 235.2,486.3 236.5,487.0 237.8,488.0 240.3,487.1 241.9,493.8 243.6,500.5 245.3,507.2 247.8,505.6 250.3,510.6 252.9,512.3 255.4,511.4 257.9,510.6 260.4,514.8 262.9,511.4 265.4,512.3 266.7,509.0 268.0,506.4 270.5,508.9 273.0,498.9 275.5,490.5 278.0,488.0 280.5,488.8 281.8,488.2 283.1,488.0 285.6,487.1 288.1,486.3 290.6,488.8 291.7,497.2 294.2,503.9 296.7,508.9 299.2,510.6 301.7,512.3 303.0,513.2 304.3,513.1 306.8,514.8 309.3,515.6 311.0,518.2 313.5,515.6 316.0,516.5 318.5,514.8 321.0,515.6 322.7,507.2 325.2,497.2 326.5,491.7 327.8,487.1 329.4,481.2 331.1,482.9 333.6,480.4 336.1,479.6 338.7,481.2 341.2,485.4 342.9,492.1 344.5,502.2 346.2,507.2 348.7,510.6 351.2,515.6 352.5,518.3 353.8,520.7 356.3,522.3 358.0,524.9 359.6,527.4 361.3,524.9 363.8,527.4 366.3,525.7 368.9,529.9 370.0,525.8 371.4,522.9 372.8,520.2 374.2,518.3 375.6,516.0 377.0,513.7 378.4,511.8 380.5,507.6 382.6,504.8 384.0,501.3 386.1,502.7 388.2,502.0 390.3,506.2 392.1,497.8 393.8,495.7 395.2,502.0 396.6,509.0 398.0,512.0 399.4,514.6 400.8,514.9 402.2,515.3 404.3,520.2 406.4,517.4 408.5,515.3 409.9,520.2 412.0,519.5 414.1,521.6 416.2,524.4 418.3,520.2 420.4,523.7 422.5,525.8 423.9,527.2 426.0,523.0 428.1,521.6 430.2,520.9 432.3,522.3" fill="none" stroke="#9a9579" stroke-width="1.15" stroke-linejoin="round" stroke-opacity="1.0"/>
<polyline points="59.2,477.4 60.9,472.3 63.4,476.5 65.1,472.3 66.8,468.2 68.5,470.7 70.1,476.5 71.4,475.6 72.7,474.9 75.2,475.7 77.7,468.2 79.3,468.6 81.0,469.8 82.7,470.6 84.4,470.7 86.1,469.4 87.8,469.0 89.8,457.2 91.9,469.0 93.6,476.5 96.1,473.2 97.4,471.1 98.7,469.0 101.2,474.0 103.7,479.1 105.4,474.0 107.9,478.2 110.4,474.9 112.1,475.3 113.8,474.9 115.2,472.2 116.7,470.3 119.2,472.9 120.9,465.3 123.4,458.6 125.9,451.9 127.6,446.8 130.1,448.5 131.8,435.1 133.5,431.7 135.2,438.5 137.2,421.7 138.9,438.5 141.0,441.8 143.6,450.2 146.1,456.9 148.6,464.5 151.1,465.3 153.6,467.0 155.6,461.1 157.8,467.0 160.3,467.8 162.3,470.3 164.5,465.3 166.2,462.8 167.9,467.0 169.6,465.3 172.1,468.7 174.6,461.9 176.8,451.9 178.5,448.5 180.1,438.5 181.8,451.9 183.8,455.2 185.5,457.8 187.2,460.3 188.8,462.9 190.5,465.3 192.2,468.2 193.9,472.0 196.4,470.3 198.9,480.4 200.5,486.0 201.9,488.9 203.4,492.1 205.1,493.2 206.7,493.8 208.4,492.5 210.1,491.3 211.7,493.8 213.4,487.1 215.1,484.8 216.8,482.1 219.3,478.7 221.8,472.0 224.3,465.3 226.8,456.9 229.4,448.5 231.9,451.0 234.4,449.4 236.9,450.2 238.9,457.8 241.1,444.3 242.8,460.3 244.5,468.7 247.0,477.0 249.0,474.5 250.3,478.7 252.9,483.8 255.4,485.4 257.9,482.9 260.4,480.4 262.9,482.9 265.4,484.6 266.7,481.3 268.0,478.7 270.5,475.4 272.1,477.9 273.8,463.6 276.3,456.9 278.9,450.2 280.5,449.4 282.2,456.9 283.9,453.6 286.4,454.4 288.9,451.0 290.3,448.0 291.7,453.6 293.4,463.6 295.9,472.0 298.4,477.0 300.9,482.1 303.4,484.6 305.9,485.4 307.2,486.8 308.5,488.8 311.0,487.1 313.5,493.8 316.0,485.4 317.7,488.8 319.4,482.1 321.0,488.8 322.7,475.4 325.2,456.9 326.5,448.1 327.8,440.1 329.8,430.1 331.6,440.1 333.3,445.2 335.0,448.5 336.6,444.3 338.7,449.4 340.3,445.2 341.7,441.0 343.4,462.0 345.0,478.7 346.7,469.5 348.4,478.7 350.4,490.5 352.9,493.8 354.6,498.9 357.1,497.2 359.6,502.2 362.1,504.7 364.7,507.2 366.8,502.2 368.9,507.2 370.0,502.0 371.4,499.9 372.8,497.8 374.2,495.4 375.6,492.2 377.0,489.4 378.7,495.7 380.5,488.0 382.6,485.9 384.0,483.1 385.7,476.8 387.5,480.3 389.6,481.0 391.9,414.0 393.9,460.0 395.2,474.0 397.3,485.2 399.4,488.7 401.9,485.2 403.6,493.6 405.3,497.8 407.1,502.0 408.9,495.0 410.6,499.2 412.7,498.5 414.5,500.6 416.2,504.8 418.3,500.6 420.4,496.4 422.5,499.2 424.6,503.4 426.0,505.6 427.4,507.6 429.5,504.8 431.6,501.3 433.0,499.9" fill="none" stroke="#87658e" stroke-width="1.15" stroke-linejoin="round" stroke-opacity="1.0"/>
<polyline points="59.2,432.1 61.7,432.4 64.3,437.1 65.9,425.4 67.6,411.1 69.3,415.3 71.0,422.9 72.3,415.3 73.5,420.3 75.2,417.0 76.8,414.5 78.1,414.6 79.4,414.5 81.9,415.3 84.4,412.8 86.1,408.6 87.8,407.8 89.9,387.6 91.9,403.6 93.6,422.0 96.1,423.7 98.3,406.1 100.0,425.4 101.2,432.9 103.4,429.6 105.4,433.8 107.9,438.8 110.1,442.1 112.1,427.9 113.4,440.5 114.6,433.8 116.7,439.1 119.2,418.9 120.9,410.5 122.6,397.1 124.3,382.0 125.9,373.6 127.6,372.8 129.3,363.6 131.0,356.8 132.7,339.2 134.3,348.5 136.0,355.2 137.7,350.1 138.5,363.6 140.2,383.7 142.7,393.8 145.2,405.5 146.5,408.8 147.8,412.2 150.3,420.6 152.8,426.5 154.5,408.0 156.1,425.6 158.7,426.5 161.2,425.6 162.9,434.0 164.5,429.8 166.2,432.3 167.9,424.0 170.4,413.9 172.1,412.2 174.6,402.1 177.1,392.1 178.8,389.2 180.5,386.2 182.2,388.9 183.8,392.1 185.5,394.9 187.2,397.1 189.7,403.8 192.2,412.2 194.7,421.4 197.2,421.4 198.5,428.0 199.8,434.0 202.3,444.1 203.4,448.5 205.1,452.0 206.7,455.2 209.2,452.7 211.7,451.0 213.0,448.6 214.3,446.8 216.8,440.1 219.3,430.1 221.0,420.0 222.7,415.6 225.2,412.2 226.8,388.7 228.5,377.8 230.2,378.7 232.7,377.0 234.4,377.0 236.1,383.7 238.6,388.7 240.3,384.5 241.9,403.8 243.6,413.9 245.3,423.4 247.8,433.4 250.3,439.3 252.9,441.0 255.4,446.8 257.9,446.0 259.6,440.1 261.2,451.0 262.9,440.1 264.6,446.0 267.1,436.8 269.6,433.4 271.3,428.4 273.0,405.5 274.7,393.8 276.8,391.2 278.9,381.2 280.5,388.7 282.2,393.8 283.9,387.0 285.6,384.5 287.2,383.7 288.5,385.4 289.8,387.0 291.4,393.8 292.5,415.0 295.0,426.7 296.3,429.5 297.6,432.6 299.2,431.7 300.9,445.2 302.6,446.0 304.3,450.2 306.8,453.6 309.3,456.1 311.0,455.2 312.7,451.9 314.3,452.7 316.0,451.0 317.7,451.9 319.4,446.8 321.0,445.2 322.7,430.1 324.4,407.2 326.1,393.8 327.8,380.3 329.4,379.5 331.9,377.0 333.2,375.0 334.5,373.6 336.6,370.3 338.3,375.3 340.0,374.5 341.7,371.9 342.9,393.8 344.5,413.9 346.2,427.3 347.9,440.1 349.6,451.0 351.2,455.2 352.9,457.8 353.8,456.1 355.4,463.6 356.7,466.6 358.0,468.7 360.5,473.7 362.1,479.6 364.7,475.4 367.2,469.5 368.9,468.7 370.5,472.0 372.8,469.6 374.2,465.9 375.6,461.2 377.0,450.0 377.7,444.4 379.8,443.0 381.2,440.2 383.3,437.4 384.7,438.8 386.5,426.2 388.2,427.6 389.6,436.0 391.3,437.4 392.3,339.8 393.6,400.0 394.9,424.8 396.6,437.4 398.7,446.5 400.8,443.0 402.5,439.5 404.3,457.0 406.4,455.6 408.5,456.3 410.6,465.4 412.0,462.6 414.1,466.8 416.2,468.2 418.3,466.8 420.4,462.6 422.5,464.0 424.6,460.5 426.7,459.8 428.8,460.5 430.9,456.3 432.3,454.2" fill="none" stroke="#646498" stroke-width="1.15" stroke-linejoin="round" stroke-opacity="1.0"/>
</g></g>
<rect x="114.7" y="336.9" width="47.6" height="271.3" fill="none" stroke="#d0ccaa" stroke-width="0.8"/>
<rect x="162.3" y="336.9" width="47.9" height="271.3" fill="none" stroke="#c8a8a8" stroke-width="0.8"/>
<rect x="210.2" y="336.9" width="47.6" height="271.3" fill="none" stroke="#a8a8bc" stroke-width="0.8"/>
<line x1="50" y1="333.8" x2="50" y2="575.5" stroke="#404040" stroke-width="1.6"/>
<line x1="49.2" y1="574.8" x2="441" y2="574.8" stroke="#3a3a3a" stroke-width="1.6"/>
<text x="32.1" y="360.4" font-size="15.2" text-anchor="end" fill="#363636" textLength="29.9" lengthAdjust="spacingAndGlyphs">0.12</text>
<rect x="36.4" y="354.3" width="4.3" height="1.3" fill="#333"/>
<text x="32.1" y="396.5" font-size="15.2" text-anchor="end" fill="#363636" textLength="29.9" lengthAdjust="spacingAndGlyphs">0.10</text>
<rect x="36.4" y="390.4" width="4.3" height="1.3" fill="#333"/>
<text x="32.1" y="432.6" font-size="15.2" text-anchor="end" fill="#363636" textLength="29.9" lengthAdjust="spacingAndGlyphs">0.08</text>
<rect x="36.4" y="426.5" width="4.3" height="1.3" fill="#333"/>
<text x="32.1" y="468.7" font-size="15.2" text-anchor="end" fill="#363636" textLength="29.9" lengthAdjust="spacingAndGlyphs">0.06</text>
<rect x="36.4" y="462.6" width="4.3" height="1.3" fill="#333"/>
<text x="32.1" y="504.8" font-size="15.2" text-anchor="end" fill="#363636" textLength="29.9" lengthAdjust="spacingAndGlyphs">0.04</text>
<rect x="36.4" y="498.7" width="4.3" height="1.3" fill="#333"/>
<text x="32.1" y="540.9" font-size="15.2" text-anchor="end" fill="#363636" textLength="29.9" lengthAdjust="spacingAndGlyphs">0.02</text>
<rect x="36.4" y="534.8" width="4.3" height="1.3" fill="#333"/>
<text x="32.1" y="576.7" font-size="15.2" text-anchor="end" fill="#363636" textLength="8.3" lengthAdjust="spacingAndGlyphs">0</text>
<rect x="36.4" y="570.6" width="4.3" height="1.3" fill="#333"/>
<text x="46.5" y="324.3" font-size="13.8" text-anchor="start" fill="#363636">R</text>
<rect x="124.7" y="581.5" width="1.4" height="4.2" fill="#333"/>
<text x="126.0" y="602.4" font-size="15" text-anchor="middle" fill="#363636" textLength="24.8" lengthAdjust="spacingAndGlyphs">300</text>
<rect x="214.2" y="581.5" width="1.4" height="4.2" fill="#333"/>
<text x="215.5" y="602.4" font-size="15" text-anchor="middle" fill="#363636" textLength="24.8" lengthAdjust="spacingAndGlyphs">350</text>
<rect x="305.0" y="581.5" width="1.4" height="4.2" fill="#333"/>
<text x="306.3" y="602.4" font-size="15" text-anchor="middle" fill="#363636" textLength="24.8" lengthAdjust="spacingAndGlyphs">400</text>
<rect x="395.9" y="581.5" width="1.4" height="4.2" fill="#333"/>
<text x="397.2" y="602.4" font-size="15" text-anchor="middle" fill="#363636" textLength="24.8" lengthAdjust="spacingAndGlyphs">450</text>
<text x="429.2" y="598.3" font-size="15.5" text-anchor="start" fill="#363636" textLength="54.8" lengthAdjust="spacingAndGlyphs">time (h)</text>
<circle cx="426.6" cy="337" r="5.9" fill="none" stroke="#1a1a1a" stroke-width="1.4"/>
<line x1="420.6" y1="326.5" x2="420.6" y2="343.4" stroke="#1a1a1a" stroke-width="1.5"/>
<line x1="211" y1="350.5" x2="256.5" y2="350.5" stroke="#222" stroke-width="1.5"/>
<path d="M214.6,346.6 L210.6,350.5 L214.6,354.4" fill="none" stroke="#222" stroke-width="1.5"/>
<path d="M252.8,346.6 L256.8,350.5 L252.8,354.4" fill="none" stroke="#222" stroke-width="1.5"/>
<text x="268" y="353.5" font-size="16" text-anchor="start" fill="#363636" textLength="77.4" lengthAdjust="spacingAndGlyphs">periodicity</text>
<line x1="441.2" y1="453.4" x2="491.5" y2="431.8" stroke="#444" stroke-width="1.2"/>
<text x="497.5" y="436.8" font-size="14.8" text-anchor="start" fill="#363636" textLength="20.6" lengthAdjust="spacingAndGlyphs">1 V</text>
<line x1="438.7" y1="501.8" x2="500.7" y2="491.9" stroke="#444" stroke-width="1.2"/>
<text x="508.2" y="497.3" font-size="14.8" text-anchor="start" fill="#363636" textLength="35.4" lengthAdjust="spacingAndGlyphs">0.8 V</text>
<line x1="439.4" y1="522.8" x2="521.3" y2="522.8" stroke="#444" stroke-width="1.2"/>
<text x="526.8" y="529.3" font-size="14.8" text-anchor="start" fill="#363636" textLength="34.7" lengthAdjust="spacingAndGlyphs">0.6 V</text>
<line x1="441.2" y1="549.1" x2="467.2" y2="549.1" stroke="#444" stroke-width="1.2"/>
<text x="475.4" y="554.6" font-size="14.8" text-anchor="start" fill="#363636" textLength="35.2" lengthAdjust="spacingAndGlyphs">0.4 V</text>
<line x1="438.7" y1="565.8" x2="524.3" y2="565.8" stroke="#444" stroke-width="1.2"/>
<text x="533" y="573.2" font-size="14.8" text-anchor="start" fill="#363636" textLength="35.5" lengthAdjust="spacingAndGlyphs">0.2 V</text>
</g>
<text x="8" y="644.8" font-size="15.5" text-anchor="start" fill="#363636" textLength="78" lengthAdjust="spacingAndGlyphs">nigth starts</text>
<line x1="90" y1="640" x2="105" y2="640" stroke="#444" stroke-width="1.2"/>
<line x1="134.4" y1="649.4" x2="134.4" y2="661" stroke="#555" stroke-width="1.2"/>
<text x="129.4" y="679.9" font-size="15.5" text-anchor="start" fill="#363636" textLength="69.2" lengthAdjust="spacingAndGlyphs">day starts</text>
<defs><mask id="mm" maskUnits="userSpaceOnUse" x="-20" y="-20" width="40" height="40"><rect x="-20" y="-20" width="40" height="40" fill="#fff"/><circle cx="3.5" cy="-0.3" r="5.5" fill="#000"/></mask><g id="moon"><circle cx="0" cy="0" r="6.1" fill="#9096c2" stroke="#626a9c" stroke-width="0.9" mask="url(#mm)"/></g></defs>
<use href="#moon" x="115.3" y="639.7"/>
<use href="#moon" x="165.5" y="639.7"/>
<use href="#moon" x="214.8" y="639.7"/>
<use href="#moon" x="264.8" y="639.7"/>
<use href="#moon" x="315.1" y="639.7"/>
<use href="#moon" x="365.1" y="639.7"/>
<polygon points="135.60,633.55 137.45,636.85 141.23,636.80 139.30,640.05 141.23,643.30 137.45,643.25 135.60,646.55 133.75,643.25 129.97,643.30 131.90,640.05 129.97,636.80 133.75,636.85" fill="#f8ef12" stroke="#aa9c40" stroke-width="0.95" stroke-linejoin="round"/>
<polygon points="185.30,633.55 187.15,636.85 190.93,636.80 189.00,640.05 190.93,643.30 187.15,643.25 185.30,646.55 183.45,643.25 179.67,643.30 181.60,640.05 179.67,636.80 183.45,636.85" fill="#f8ef12" stroke="#aa9c40" stroke-width="0.95" stroke-linejoin="round"/>
<polygon points="235.50,633.55 237.35,636.85 241.13,636.80 239.20,640.05 241.13,643.30 237.35,643.25 235.50,646.55 233.65,643.25 229.87,643.30 231.80,640.05 229.87,636.80 233.65,636.85" fill="#f8ef12" stroke="#aa9c40" stroke-width="0.95" stroke-linejoin="round"/>
<polygon points="285.50,633.55 287.35,636.85 291.13,636.80 289.20,640.05 291.13,643.30 287.35,643.25 285.50,646.55 283.65,643.25 279.87,643.30 281.80,640.05 279.87,636.80 283.65,636.85" fill="#f8ef12" stroke="#aa9c40" stroke-width="0.95" stroke-linejoin="round"/>
<polygon points="334.80,633.55 336.65,636.85 340.43,636.80 338.50,640.05 340.43,643.30 336.65,643.25 334.80,646.55 332.95,643.25 329.17,643.30 331.10,640.05 329.17,636.80 332.95,636.85" fill="#f8ef12" stroke="#aa9c40" stroke-width="0.95" stroke-linejoin="round"/>
</svg>
</body></html>
